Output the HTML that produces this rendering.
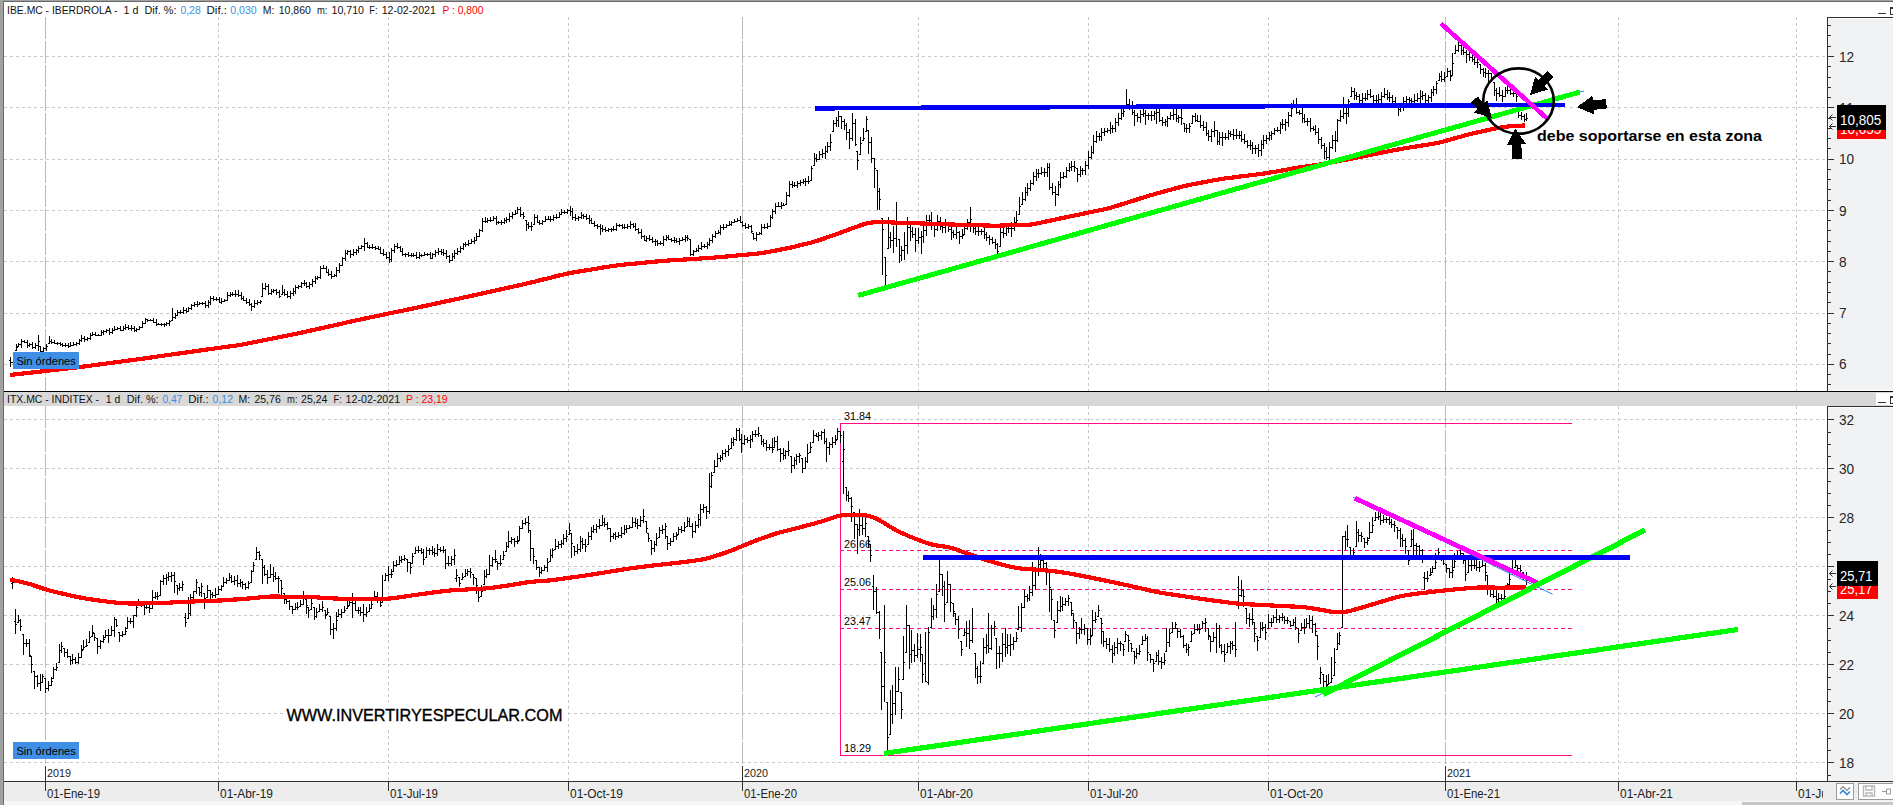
<!DOCTYPE html>
<html><head><meta charset="utf-8"><title>chart</title>
<style>html,body{margin:0;padding:0;background:#fff;overflow:hidden}svg{display:block}text{white-space:pre}</style></head>
<body>
<svg width="1893" height="805" viewBox="0 0 1893 805" font-family="Liberation Sans, sans-serif">
<rect width="1893" height="805" fill="#fff"/>
<path d="M4 364.5H1827M4 313.5H1827M4 261.5H1827M4 210.5H1827M4 159.5H1827M4 107.5H1827M4 56.5H1827M4 762.5H1827M4 713.5H1827M4 664.5H1827M4 615.5H1827M4 566.5H1827M4 517.5H1827M4 468.5H1827M4 419.5H1827M218.5 17V391M218.5 406V781M388.5 17V391M388.5 406V781M568.5 17V391M568.5 406V781M918.5 17V391M918.5 406V781M1088.5 17V391M1088.5 406V781M1268.5 17V391M1268.5 406V781M1618.5 17V391M1618.5 406V781M1796.5 17V391M1796.5 406V781" stroke="#c9c9c9" stroke-width="1" stroke-dasharray="3 3" fill="none" shape-rendering="crispEdges"/>
<path d="M45.5 17V391M45.5 406V781M742.5 17V391M742.5 406V781M1445.5 17V391M1445.5 406V781" stroke="#b9b9b9" stroke-width="1" stroke-dasharray="22 2" fill="none" shape-rendering="crispEdges"/>
<path d="M840.5 755V423.5H1572M840 755.5H1572" stroke="#ff0a84" stroke-width="1" fill="none" shape-rendering="crispEdges"/>
<path d="M840 550.5H1572M840 589.5H1572M840 628.5H1572" stroke="#ff0a84" stroke-width="1" stroke-dasharray="4 3" fill="none" shape-rendering="crispEdges"/>
<path d="M10.5 357V367M9 360.5h1M11 362.5h1M13.5 354V364M12 362.5h1M14 355.5h1M16.5 344V351M15 350.5h1M17 347.5h1M18.5 343V347M17 346.5h1M19 344.5h1M21.5 339V348M20 344.5h1M22 341.5h1M24.5 340V343M23 341.5h1M25 342.5h1M27.5 340V348M26 342.5h1M28 345.5h1M29.5 343V347M28 345.5h1M30 344.5h1M32.5 342V349M31 344.5h1M33 347.5h1M35.5 343V349M34 347.5h1M36 345.5h1M38.5 335V351M37 345.5h1M39 341.5h1M40.5 346V352M39 346.5h1M41 351.5h1M43.5 347V352M42 351.5h1M44 348.5h1M46.5 344V351M45 348.5h1M47 346.5h1M49.5 336V344M48 343.5h1M50 341.5h1M51.5 339V344M50 341.5h1M52 342.5h1M54.5 340V344M53 342.5h1M55 343.5h1M57.5 342V345M56 343.5h1M58 343.5h1M60.5 342V346M59 343.5h1M61 344.5h1M62.5 343V347M61 344.5h1M63 345.5h1M65.5 343V347M64 345.5h1M66 345.5h1M68.5 343V348M67 345.5h1M69 346.5h1M70.5 342V347M69 346.5h1M71 345.5h1M73.5 342V346M72 345.5h1M74 344.5h1M76.5 342V346M75 344.5h1M77 343.5h1M79.5 339V345M78 343.5h1M80 340.5h1M81.5 335V342M80 340.5h1M82 338.5h1M84.5 336V342M83 338.5h1M85 339.5h1M87.5 337V341M86 339.5h1M88 338.5h1M90.5 333V340M89 338.5h1M91 335.5h1M92.5 332V336M91 335.5h1M93 334.5h1M95.5 332V336M94 334.5h1M96 335.5h1M98.5 334V336M97 335.5h1M99 335.5h1M101.5 330V336M100 335.5h1M102 332.5h1M103.5 330V335M102 332.5h1M104 331.5h1M106.5 329V333M105 331.5h1M107 330.5h1M109.5 328V335M108 330.5h1M110 332.5h1M112.5 328V334M111 332.5h1M113 330.5h1M114.5 326V331M113 330.5h1M115 329.5h1M117.5 327V330M116 329.5h1M118 328.5h1M120.5 326V331M119 328.5h1M121 330.5h1M123.5 326V331M122 330.5h1M124 328.5h1M125.5 324V330M124 328.5h1M126 327.5h1M128.5 325V330M127 327.5h1M129 328.5h1M131.5 325V331M130 328.5h1M132 328.5h1M134.5 326V332M133 328.5h1M135 330.5h1M136.5 328V332M135 330.5h1M137 329.5h1M139.5 326V330M138 329.5h1M140 327.5h1M142.5 321V328M141 327.5h1M143 323.5h1M145.5 318V324M144 323.5h1M146 319.5h1M147.5 319V322M146 319.5h1M148 320.5h1M150.5 319V321M149 320.5h1M151 320.5h1M153.5 318V323M152 320.5h1M154 322.5h1M156.5 319V326M155 322.5h1M157 324.5h1M158.5 323V325M157 324.5h1M159 324.5h1M161.5 323V326M160 324.5h1M162 324.5h1M164.5 323V327M163 324.5h1M165 324.5h1M166.5 322V326M165 324.5h1M167 323.5h1M169.5 320V326M168 323.5h1M170 321.5h1M172.5 308V321M171 320.5h1M173 317.5h1M175.5 313V319M174 317.5h1M176 315.5h1M177.5 310V316M176 315.5h1M178 312.5h1M180.5 310V314M179 312.5h1M181 312.5h1M183.5 307V314M182 312.5h1M184 310.5h1M186.5 308V313M185 310.5h1M187 311.5h1M188.5 307V312M187 311.5h1M189 308.5h1M191.5 304V310M190 308.5h1M192 305.5h1M194.5 302V307M193 305.5h1M195 304.5h1M197.5 301V307M196 304.5h1M198 304.5h1M199.5 302V305M198 304.5h1M200 303.5h1M202.5 302V305M201 303.5h1M203 303.5h1M205.5 301V308M204 303.5h1M206 305.5h1M208.5 300V308M207 305.5h1M209 302.5h1M210.5 296V305M209 302.5h1M211 298.5h1M213.5 296V301M212 298.5h1M214 299.5h1M216.5 297V301M215 299.5h1M217 299.5h1M219.5 297V303M218 299.5h1M220 302.5h1M221.5 298V304M220 302.5h1M222 301.5h1M224.5 299V302M223 301.5h1M225 300.5h1M227.5 292V301M226 300.5h1M228 295.5h1M230.5 292V297M229 295.5h1M231 294.5h1M232.5 292V296M231 294.5h1M233 294.5h1M235.5 290V297M234 294.5h1M236 294.5h1M238.5 290V297M237 294.5h1M239 295.5h1M241.5 292V300M240 295.5h1M242 298.5h1M243.5 296V301M242 298.5h1M244 300.5h1M246.5 298V304M245 300.5h1M247 302.5h1M249.5 299V306M248 302.5h1M250 304.5h1M251.5 303V311M250 304.5h1M252 306.5h1M254.5 300V308M253 306.5h1M255 303.5h1M257.5 300V305M256 303.5h1M258 302.5h1M260.5 300V304M259 302.5h1M261 301.5h1M262.5 283V297M261 296.5h1M263 288.5h1M265.5 283V290M264 288.5h1M266 286.5h1M268.5 284V295M267 286.5h1M269 293.5h1M271.5 289V295M270 293.5h1M272 291.5h1M273.5 289V293M272 291.5h1M274 290.5h1M276.5 289V295M275 290.5h1M277 292.5h1M279.5 290V298M278 292.5h1M280 296.5h1M282.5 285V295M281 294.5h1M283 292.5h1M284.5 289V296M283 292.5h1M285 294.5h1M287.5 291V298M286 294.5h1M288 296.5h1M290.5 291V299M289 296.5h1M291 293.5h1M293.5 288V296M292 293.5h1M294 291.5h1M295.5 285V294M294 291.5h1M296 287.5h1M298.5 285V289M297 287.5h1M299 286.5h1M301.5 282V288M300 286.5h1M302 283.5h1M304.5 280V286M303 283.5h1M305 283.5h1M306.5 282V288M305 283.5h1M307 286.5h1M309.5 282V289M308 286.5h1M310 284.5h1M312.5 279V287M311 284.5h1M313 281.5h1M315.5 276V284M314 281.5h1M316 278.5h1M317.5 276V280M316 278.5h1M318 277.5h1M320.5 266V279M319 277.5h1M321 268.5h1M323.5 265V269M322 268.5h1M324 268.5h1M326.5 266V273M325 268.5h1M327 272.5h1M328.5 269V276M327 272.5h1M329 274.5h1M331.5 271V279M330 274.5h1M332 276.5h1M334.5 274V277M333 276.5h1M335 275.5h1M336.5 267V277M335 275.5h1M337 270.5h1M339.5 263V273M338 270.5h1M340 265.5h1M342.5 257V266M341 265.5h1M343 258.5h1M345.5 250V261M344 258.5h1M346 253.5h1M347.5 250V255M346 253.5h1M348 251.5h1M350.5 250V258M349 251.5h1M351 254.5h1M353.5 249V256M352 254.5h1M354 252.5h1M356.5 249V255M355 252.5h1M357 250.5h1M358.5 246V253M357 250.5h1M359 248.5h1M361.5 245V249M360 248.5h1M362 246.5h1M364.5 238V251M363 246.5h1M365 243.5h1M367.5 242V248M366 243.5h1M368 247.5h1M369.5 245V249M368 247.5h1M370 247.5h1M372.5 244V249M371 247.5h1M373 247.5h1M375.5 246V250M374 247.5h1M376 248.5h1M378.5 246V250M377 248.5h1M379 249.5h1M380.5 247V254M379 249.5h1M381 253.5h1M383.5 249V256M382 253.5h1M384 254.5h1M386.5 252V259M385 254.5h1M387 257.5h1M389.5 252V263M388 257.5h1M390 259.5h1M391.5 248V262M390 259.5h1M392 250.5h1M394.5 244V253M393 250.5h1M395 246.5h1M397.5 243V249M396 246.5h1M398 247.5h1M400.5 246V252M399 247.5h1M401 251.5h1M402.5 248V256M401 251.5h1M403 254.5h1M405.5 253V257M404 254.5h1M406 254.5h1M408.5 252V257M407 254.5h1M409 255.5h1M411.5 253V257M410 255.5h1M412 255.5h1M413.5 253V257M412 255.5h1M414 255.5h1M416.5 252V259M415 255.5h1M417 257.5h1M419.5 252V259M418 257.5h1M420 255.5h1M421.5 254V257M420 255.5h1M422 255.5h1M424.5 252V256M423 255.5h1M425 254.5h1M427.5 253V256M426 254.5h1M428 254.5h1M430.5 252V259M429 254.5h1M431 258.5h1M432.5 253V259M431 258.5h1M433 254.5h1M435.5 250V257M434 254.5h1M436 252.5h1M438.5 248V255M437 252.5h1M439 251.5h1M441.5 249V255M440 251.5h1M442 252.5h1M443.5 249V256M442 252.5h1M444 253.5h1M446.5 250V259M445 253.5h1M447 256.5h1M449.5 255V263M448 256.5h1M450 260.5h1M452.5 253V261M451 260.5h1M453 256.5h1M454.5 250V259M453 256.5h1M455 253.5h1M457.5 248V255M456 253.5h1M458 251.5h1M460.5 246V253M459 251.5h1M461 248.5h1M463.5 243V250M462 248.5h1M464 244.5h1M465.5 242V247M464 244.5h1M466 244.5h1M468.5 240V246M467 244.5h1M469 243.5h1M471.5 239V244M470 243.5h1M472 241.5h1M474.5 237V244M473 241.5h1M475 240.5h1M476.5 233V241M475 240.5h1M477 236.5h1M479.5 229V237M478 236.5h1M480 230.5h1M482.5 218V232M481 230.5h1M483 221.5h1M485.5 217V223M484 221.5h1M486 221.5h1M487.5 218V223M486 221.5h1M488 220.5h1M490.5 217V222M489 220.5h1M491 220.5h1M493.5 216V221M492 220.5h1M494 218.5h1M496.5 216V225M495 218.5h1M497 222.5h1M498.5 221V224M497 222.5h1M499 222.5h1M501.5 220V225M500 222.5h1M502 222.5h1M504.5 218V224M503 222.5h1M505 220.5h1M506.5 217V223M505 220.5h1M507 219.5h1M509.5 213V222M508 219.5h1M510 216.5h1M512.5 212V219M511 216.5h1M513 214.5h1M515.5 210V215M514 214.5h1M516 213.5h1M517.5 207V214M516 213.5h1M518 209.5h1M520.5 207V217M519 209.5h1M521 214.5h1M523.5 212V219M522 214.5h1M524 216.5h1M526.5 220V231M525 220.5h1M527 224.5h1M528.5 222V229M527 224.5h1M529 226.5h1M531.5 222V231M530 226.5h1M532 226.5h1M534.5 214V225M533 224.5h1M535 217.5h1M537.5 215V223M536 217.5h1M538 222.5h1M539.5 220V225M538 222.5h1M540 223.5h1M542.5 220V225M541 223.5h1M543 221.5h1M545.5 216V222M544 221.5h1M546 219.5h1M548.5 216V220M547 219.5h1M549 219.5h1M550.5 216V222M549 219.5h1M551 219.5h1M553.5 215V221M552 219.5h1M554 217.5h1M556.5 214V219M555 217.5h1M557 217.5h1M559.5 212V218M558 217.5h1M560 214.5h1M561.5 209V215M560 214.5h1M562 212.5h1M564.5 210V214M563 212.5h1M565 212.5h1M567.5 209V214M566 212.5h1M568 210.5h1M570.5 206V216M569 210.5h1M571 211.5h1M572.5 208V220M571 211.5h1M573 217.5h1M575.5 214V221M574 217.5h1M576 218.5h1M578.5 216V221M577 218.5h1M579 217.5h1M581.5 212V219M580 217.5h1M582 215.5h1M583.5 214V219M582 215.5h1M584 216.5h1M586.5 214V220M585 216.5h1M587 218.5h1M589.5 215V224M588 218.5h1M590 220.5h1M591.5 218V224M590 220.5h1M592 223.5h1M594.5 221V227M593 223.5h1M595 225.5h1M597.5 224V229M596 225.5h1M598 226.5h1M600.5 224V235M599 226.5h1M601 228.5h1M602.5 225V232M601 228.5h1M603 229.5h1M605.5 227V232M604 229.5h1M606 230.5h1M608.5 228V232M607 230.5h1M609 229.5h1M611.5 228V232M610 229.5h1M612 229.5h1M613.5 226V231M612 229.5h1M614 229.5h1M616.5 223V231M615 229.5h1M617 225.5h1M619.5 224V227M618 225.5h1M620 225.5h1M622.5 224V229M621 225.5h1M623 227.5h1M624.5 224V229M623 227.5h1M625 227.5h1M627.5 224V229M626 227.5h1M628 226.5h1M630.5 221V229M629 226.5h1M631 224.5h1M633.5 223V228M632 224.5h1M634 226.5h1M635.5 223V231M634 226.5h1M636 229.5h1M638.5 228V234M637 229.5h1M639 232.5h1M641.5 229V239M640 232.5h1M642 236.5h1M644.5 235V241M643 236.5h1M645 240.5h1M646.5 236V242M645 240.5h1M647 238.5h1M649.5 235V241M648 238.5h1M650 239.5h1M652.5 237V243M651 239.5h1M653 241.5h1M655.5 239V246M654 241.5h1M656 241.5h1M657.5 240V246M656 241.5h1M658 243.5h1M660.5 241V245M659 243.5h1M661 243.5h1M663.5 236V246M662 243.5h1M664 239.5h1M666.5 235V241M665 239.5h1M667 237.5h1M668.5 235V240M667 237.5h1M669 239.5h1M671.5 238V242M670 239.5h1M672 240.5h1M674.5 237V243M673 240.5h1M675 240.5h1M676.5 238V243M675 240.5h1M677 241.5h1M679.5 238V245M678 241.5h1M680 240.5h1M682.5 237V241M681 240.5h1M683 239.5h1M685.5 235V242M684 239.5h1M686 237.5h1M687.5 235V241M686 237.5h1M688 238.5h1M690.5 239V256M689 239.5h1M691 254.5h1M693.5 250V256M692 254.5h1M694 251.5h1M696.5 248V252M695 251.5h1M697 250.5h1M698.5 245V252M697 250.5h1M699 248.5h1M701.5 242V250M700 248.5h1M702 246.5h1M704.5 244V248M703 246.5h1M705 246.5h1M707.5 242V249M706 246.5h1M708 244.5h1M709.5 238V246M708 244.5h1M710 240.5h1M712.5 234V243M711 240.5h1M713 236.5h1M715.5 231V238M714 236.5h1M716 233.5h1M718.5 230V234M717 233.5h1M719 232.5h1M720.5 225V235M719 232.5h1M721 227.5h1M723.5 224V230M722 227.5h1M724 227.5h1M726.5 224V228M725 227.5h1M727 225.5h1M729.5 221V226M728 225.5h1M730 224.5h1M731.5 221V226M730 224.5h1M732 222.5h1M734.5 219V223M733 222.5h1M735 221.5h1M737.5 218V222M736 221.5h1M738 220.5h1M740.5 216V223M739 220.5h1M741 222.5h1M742.5 221V227M741 222.5h1M743 225.5h1M745.5 223V229M744 225.5h1M746 227.5h1M748.5 224V229M747 227.5h1M749 226.5h1M751.5 225V233M750 226.5h1M752 231.5h1M753.5 233V240M752 233.5h1M754 238.5h1M756.5 232V241M755 238.5h1M757 234.5h1M759.5 232V235M758 234.5h1M760 233.5h1M761.5 224V235M760 233.5h1M762 227.5h1M764.5 224V229M763 227.5h1M765 227.5h1M767.5 223V229M766 227.5h1M768 226.5h1M770.5 215V227M769 226.5h1M771 217.5h1M772.5 209V219M771 217.5h1M773 211.5h1M775.5 203V214M774 211.5h1M776 206.5h1M778.5 202V207M777 206.5h1M779 206.5h1M781.5 202V209M780 206.5h1M782 205.5h1M783.5 203V206M782 205.5h1M784 205.5h1M786.5 192V205M785 204.5h1M787 195.5h1M789.5 181V197M788 195.5h1M790 184.5h1M792.5 181V188M791 184.5h1M793 185.5h1M794.5 182V187M793 185.5h1M795 185.5h1M797.5 181V188M796 185.5h1M798 183.5h1M800.5 180V186M799 183.5h1M801 182.5h1M803.5 179V184M802 182.5h1M804 181.5h1M805.5 178V186M804 181.5h1M806 181.5h1M808.5 176V184M807 181.5h1M809 181.5h1M811.5 166V181M810 180.5h1M812 168.5h1M814.5 153V166M813 165.5h1M815 158.5h1M816.5 154V162M815 158.5h1M817 159.5h1M819.5 151V160M818 159.5h1M820 154.5h1M822.5 149V158M821 154.5h1M823 153.5h1M825.5 146V159M824 153.5h1M826 151.5h1M827.5 142V153M826 151.5h1M828 146.5h1M830.5 134V151M829 146.5h1M831 142.5h1M833.5 120V132M832 131.5h1M834 123.5h1M836.5 117V127M835 123.5h1M837 120.5h1M838.5 111V127M837 120.5h1M839 116.5h1M841.5 116V129M840 116.5h1M842 121.5h1M844.5 119V130M843 121.5h1M845 125.5h1M846.5 123V140M845 125.5h1M847 132.5h1M849.5 129V149M848 132.5h1M850 138.5h1M852.5 113V141M851 138.5h1M853 123.5h1M855.5 119V146M854 123.5h1M856 144.5h1M857.5 151V170M856 151.5h1M858 160.5h1M860.5 137V155M859 154.5h1M861 143.5h1M863.5 128V141M862 140.5h1M864 138.5h1M866.5 116V132M865 131.5h1M867 119.5h1M868.5 130V154M867 130.5h1M869 142.5h1M871.5 137V163M870 142.5h1M872 158.5h1M874.5 158V188M873 158.5h1M875 168.5h1M877.5 170V210M876 170.5h1M878 191.5h1M879.5 188V210M878 191.5h1M880 199.5h1M882.5 218V275M881 218.5h1M883 229.5h1M885.5 257V286M884 257.5h1M886 275.5h1M888.5 217V249M887 248.5h1M889 237.5h1M890.5 232V248M889 237.5h1M891 240.5h1M893.5 226V253M892 240.5h1M894 238.5h1M896.5 202V247M895 238.5h1M897 221.5h1M899.5 239V263M898 239.5h1M900 255.5h1M901.5 246V261M900 255.5h1M902 250.5h1M904.5 232V260M903 250.5h1M905 245.5h1M907.5 217V254M906 245.5h1M908 227.5h1M910.5 222V241M909 227.5h1M911 231.5h1M912.5 227V238M911 231.5h1M913 234.5h1M915.5 228V252M914 234.5h1M916 240.5h1M918.5 228V244M917 240.5h1M919 237.5h1M921.5 231V254M920 237.5h1M922 236.5h1M923.5 225V243M922 236.5h1M924 230.5h1M926.5 215V236M925 230.5h1M927 220.5h1M929.5 215V226M928 220.5h1M930 220.5h1M931.5 212V230M930 220.5h1M932 224.5h1M934.5 224V237M933 224.5h1M935 229.5h1M937.5 215V231M936 229.5h1M938 221.5h1M940.5 217V230M939 221.5h1M941 226.5h1M942.5 223V233M941 226.5h1M943 227.5h1M945.5 219V233M944 227.5h1M946 225.5h1M948.5 222V232M947 225.5h1M949 229.5h1M951.5 227V240M950 229.5h1M952 232.5h1M953.5 230V238M952 232.5h1M954 234.5h1M956.5 227V239M955 234.5h1M957 232.5h1M959.5 231V244M958 232.5h1M960 236.5h1M962.5 229V239M961 236.5h1M963 235.5h1M964.5 224V235M963 234.5h1M965 228.5h1M967.5 219V230M966 228.5h1M968 222.5h1M970.5 207V232M969 222.5h1M971 219.5h1M973.5 223V233M972 223.5h1M974 228.5h1M975.5 225V235M974 228.5h1M976 231.5h1M978.5 226V236M977 231.5h1M979 231.5h1M981.5 229V235M980 231.5h1M982 231.5h1M984.5 228V239M983 231.5h1M985 234.5h1M986.5 232V241M985 234.5h1M987 237.5h1M989.5 235V245M988 237.5h1M990 239.5h1M992.5 237V244M991 239.5h1M993 242.5h1M995.5 239V249M994 242.5h1M996 244.5h1M997.5 243V254M996 244.5h1M998 251.5h1M1000.5 223V247M999 246.5h1M1001 232.5h1M1003.5 228V238M1002 232.5h1M1004 233.5h1M1006.5 223V236M1005 233.5h1M1007 228.5h1M1008.5 223V233M1007 228.5h1M1009 228.5h1M1011.5 222V237M1010 228.5h1M1012 228.5h1M1014.5 217V231M1013 228.5h1M1015 222.5h1M1016.5 211V226M1015 222.5h1M1017 220.5h1M1019.5 197V215M1018 214.5h1M1020 206.5h1M1022.5 192V205M1021 204.5h1M1023 199.5h1M1025.5 187V201M1024 199.5h1M1026 192.5h1M1027.5 183V196M1026 192.5h1M1028 188.5h1M1030.5 180V191M1029 188.5h1M1031 183.5h1M1033.5 172V185M1032 183.5h1M1034 176.5h1M1036.5 169V181M1035 176.5h1M1037 173.5h1M1038.5 169V178M1037 173.5h1M1039 173.5h1M1041.5 167V175M1040 173.5h1M1042 172.5h1M1044.5 168V177M1043 172.5h1M1045 172.5h1M1047.5 163V177M1046 172.5h1M1048 167.5h1M1049.5 163V190M1048 167.5h1M1050 187.5h1M1052.5 183V195M1051 187.5h1M1053 192.5h1M1055.5 186V206M1054 192.5h1M1056 194.5h1M1058.5 181V196M1057 194.5h1M1059 184.5h1M1060.5 172V188M1059 184.5h1M1061 177.5h1M1063.5 172V179M1062 177.5h1M1064 176.5h1M1066.5 167V178M1065 176.5h1M1067 170.5h1M1069.5 163V172M1068 170.5h1M1070 167.5h1M1071.5 161V171M1070 167.5h1M1072 166.5h1M1074.5 161V172M1073 166.5h1M1075 167.5h1M1077.5 168V182M1076 168.5h1M1078 174.5h1M1080.5 166V177M1079 174.5h1M1081 170.5h1M1082.5 168V175M1081 170.5h1M1083 170.5h1M1085.5 161V175M1084 170.5h1M1086 165.5h1M1088.5 151V169M1087 165.5h1M1089 157.5h1M1091.5 146V159M1090 157.5h1M1092 152.5h1M1093.5 135V154M1092 152.5h1M1094 141.5h1M1096.5 131V143M1095 141.5h1M1097 136.5h1M1099.5 133V141M1098 136.5h1M1100 136.5h1M1101.5 128V141M1100 136.5h1M1102 132.5h1M1104.5 128V136M1103 132.5h1M1105 131.5h1M1107.5 128V133M1106 131.5h1M1108 130.5h1M1110.5 122V134M1109 130.5h1M1111 128.5h1M1112.5 125V133M1111 128.5h1M1113 128.5h1M1115.5 118V132M1114 128.5h1M1116 122.5h1M1118.5 113V126M1117 122.5h1M1119 118.5h1M1121.5 108V120M1120 118.5h1M1122 113.5h1M1123.5 106V117M1122 113.5h1M1124 111.5h1M1126.5 89V106M1125 105.5h1M1127 104.5h1M1129.5 99V110M1128 104.5h1M1130 106.5h1M1132.5 101V115M1131 106.5h1M1133 112.5h1M1134.5 110V126M1133 112.5h1M1135 115.5h1M1137.5 113V122M1136 115.5h1M1138 117.5h1M1140.5 110V123M1139 117.5h1M1141 114.5h1M1143.5 109V117M1142 114.5h1M1144 113.5h1M1145.5 110V125M1144 113.5h1M1146 115.5h1M1148.5 113V120M1147 115.5h1M1149 115.5h1M1151.5 111V121M1150 115.5h1M1152 115.5h1M1154.5 111V120M1153 115.5h1M1155 113.5h1M1156.5 109V124M1155 113.5h1M1157 112.5h1M1159.5 109V122M1158 112.5h1M1160 120.5h1M1162.5 117V126M1161 120.5h1M1163 122.5h1M1165.5 119V126M1164 122.5h1M1166 121.5h1M1167.5 116V127M1166 121.5h1M1168 118.5h1M1170.5 112V120M1169 118.5h1M1171 115.5h1M1173.5 109V120M1172 115.5h1M1174 114.5h1M1176.5 109V122M1175 114.5h1M1177 118.5h1M1178.5 115V123M1177 118.5h1M1179 117.5h1M1181.5 109V125M1180 117.5h1M1182 118.5h1M1184.5 123V132M1183 123.5h1M1185 128.5h1M1186.5 124V133M1185 128.5h1M1187 128.5h1M1189.5 123V133M1188 128.5h1M1190 126.5h1M1192.5 115V124M1191 123.5h1M1193 116.5h1M1195.5 113V122M1194 116.5h1M1196 120.5h1M1197.5 115V122M1196 120.5h1M1198 121.5h1M1200.5 115V128M1199 121.5h1M1201 125.5h1M1203.5 121V131M1202 125.5h1M1204 127.5h1M1206.5 122V136M1205 127.5h1M1207 133.5h1M1208.5 130V141M1207 133.5h1M1209 136.5h1M1211.5 129V142M1210 136.5h1M1212 131.5h1M1214.5 121V137M1213 131.5h1M1215 130.5h1M1217.5 130V145M1216 130.5h1M1218 141.5h1M1219.5 132V145M1218 141.5h1M1220 137.5h1M1222.5 132V146M1221 137.5h1M1223 137.5h1M1225.5 133V140M1224 137.5h1M1226 137.5h1M1228.5 130V140M1227 137.5h1M1229 133.5h1M1230.5 131V137M1229 133.5h1M1231 134.5h1M1233.5 129V140M1232 134.5h1M1234 135.5h1M1236.5 129V139M1235 135.5h1M1237 135.5h1M1239.5 131V139M1238 135.5h1M1240 135.5h1M1241.5 131V142M1240 135.5h1M1242 139.5h1M1244.5 134V144M1243 139.5h1M1245 141.5h1M1247.5 140V148M1246 141.5h1M1248 145.5h1M1250.5 140V150M1249 145.5h1M1251 145.5h1M1252.5 142V154M1251 145.5h1M1253 148.5h1M1255.5 145V154M1254 148.5h1M1256 148.5h1M1258.5 144V157M1257 148.5h1M1259 150.5h1M1261.5 140V156M1260 150.5h1M1262 144.5h1M1263.5 135V149M1262 144.5h1M1264 140.5h1M1266.5 135V144M1265 140.5h1M1267 138.5h1M1269.5 132V141M1268 138.5h1M1270 135.5h1M1271.5 131V140M1270 135.5h1M1272 133.5h1M1274.5 128V135M1273 133.5h1M1275 130.5h1M1277.5 127V132M1276 130.5h1M1278 130.5h1M1280.5 122V134M1279 130.5h1M1281 124.5h1M1282.5 119V129M1281 124.5h1M1283 124.5h1M1285.5 119V131M1284 124.5h1M1286 122.5h1M1288.5 112V127M1287 122.5h1M1289 115.5h1M1291.5 103V117M1290 115.5h1M1292 108.5h1M1293.5 100V107M1292 106.5h1M1294 104.5h1M1296.5 98V114M1295 104.5h1M1297 112.5h1M1299.5 110V115M1298 112.5h1M1300 113.5h1M1302.5 108V123M1301 113.5h1M1303 118.5h1M1304.5 114V123M1303 118.5h1M1305 121.5h1M1307.5 118V126M1306 121.5h1M1308 121.5h1M1310.5 118V132M1309 121.5h1M1311 128.5h1M1313.5 126V131M1312 128.5h1M1314 129.5h1M1315.5 125V135M1314 129.5h1M1316 132.5h1M1318.5 128V144M1317 132.5h1M1319 139.5h1M1321.5 137V149M1320 139.5h1M1322 145.5h1M1324.5 143V159M1323 145.5h1M1325 151.5h1M1326.5 147V160M1325 151.5h1M1327 157.5h1M1329.5 142V160M1328 157.5h1M1330 147.5h1M1332.5 135V149M1331 147.5h1M1333 140.5h1M1335.5 131V152M1334 140.5h1M1336 140.5h1M1337.5 119V142M1336 140.5h1M1338 120.5h1M1340.5 110V122M1339 120.5h1M1341 116.5h1M1343.5 97V119M1342 116.5h1M1344 113.5h1M1346.5 107V124M1345 113.5h1M1347 113.5h1M1348.5 99V117M1347 113.5h1M1349 101.5h1M1351.5 87V97M1350 96.5h1M1352 91.5h1M1354.5 88V100M1353 91.5h1M1355 95.5h1M1356.5 92V100M1355 95.5h1M1357 96.5h1M1359.5 94V104M1358 96.5h1M1360 100.5h1M1362.5 93V105M1361 100.5h1M1363 98.5h1M1365.5 93V101M1364 98.5h1M1366 98.5h1M1367.5 90V100M1366 98.5h1M1368 94.5h1M1370.5 89V98M1369 94.5h1M1371 96.5h1M1373.5 95V103M1372 96.5h1M1374 100.5h1M1376.5 95V104M1375 100.5h1M1377 100.5h1M1378.5 94V103M1377 100.5h1M1379 99.5h1M1381.5 92V104M1380 99.5h1M1382 96.5h1M1384.5 88V98M1383 96.5h1M1385 94.5h1M1387.5 90V100M1386 94.5h1M1388 97.5h1M1389.5 92V102M1388 97.5h1M1390 97.5h1M1392.5 95V105M1391 97.5h1M1393 101.5h1M1395.5 97V107M1394 101.5h1M1396 105.5h1M1398.5 103V116M1397 105.5h1M1399 109.5h1M1400.5 103V112M1399 109.5h1M1401 106.5h1M1403.5 97V111M1402 106.5h1M1404 101.5h1M1406.5 96V104M1405 101.5h1M1407 99.5h1M1409.5 97V103M1408 99.5h1M1410 100.5h1M1411.5 98V104M1410 100.5h1M1412 101.5h1M1414.5 94V106M1413 101.5h1M1415 100.5h1M1417.5 93V102M1416 100.5h1M1418 98.5h1M1420.5 90V103M1419 98.5h1M1421 96.5h1M1422.5 91V100M1421 96.5h1M1423 95.5h1M1425.5 93V104M1424 95.5h1M1426 100.5h1M1428.5 95V103M1427 100.5h1M1429 97.5h1M1431.5 89V102M1430 97.5h1M1432 92.5h1M1433.5 86V96M1432 92.5h1M1434 89.5h1M1436.5 81V94M1435 89.5h1M1437 83.5h1M1439.5 73V81M1438 80.5h1M1440 76.5h1M1441.5 71V82M1440 76.5h1M1442 79.5h1M1444.5 72V82M1443 79.5h1M1445 77.5h1M1447.5 68V77M1446 76.5h1M1448 71.5h1M1450.5 70V81M1449 71.5h1M1451 76.5h1M1452.5 53V76M1451 75.5h1M1453 63.5h1M1455.5 45V54M1454 53.5h1M1456 50.5h1M1458.5 39V52M1457 50.5h1M1459 45.5h1M1461.5 44V55M1460 45.5h1M1462 50.5h1M1463.5 46V55M1462 50.5h1M1464 52.5h1M1466.5 50V63M1465 52.5h1M1467 54.5h1M1469.5 52V61M1468 54.5h1M1470 57.5h1M1472.5 53V62M1471 57.5h1M1473 59.5h1M1474.5 55V65M1473 59.5h1M1475 62.5h1M1477.5 59V68M1476 62.5h1M1478 62.5h1M1480.5 64V74M1479 64.5h1M1481 69.5h1M1483.5 68V77M1482 69.5h1M1484 72.5h1M1485.5 68V78M1484 72.5h1M1486 73.5h1M1488.5 70V82M1487 73.5h1M1489 73.5h1M1491.5 73V82M1490 73.5h1M1492 78.5h1M1494.5 82V96M1493 82.5h1M1495 90.5h1M1496.5 88V101M1495 90.5h1M1497 93.5h1M1499.5 87V97M1498 93.5h1M1500 95.5h1M1502.5 90V102M1501 95.5h1M1503 96.5h1M1505.5 87V97M1504 96.5h1M1506 90.5h1M1507.5 85V94M1506 90.5h1M1508 90.5h1M1510.5 86V95M1509 90.5h1M1511 93.5h1M1513.5 88V97M1512 93.5h1M1514 93.5h1M1516.5 90V102M1515 93.5h1M1517 96.5h1M1518.5 110V118M1517 110.5h1M1519 115.5h1M1521.5 112V120M1520 115.5h1M1522 116.5h1M1524.5 114V122M1523 116.5h1M1525 119.5h1M1526.5 113V121M1525 119.5h1M1527 118.5h1" stroke="#000" stroke-width="1" fill="none" shape-rendering="crispEdges"/>
<path d="M12.5 577V589M11 583.5h1M13 582.5h1M15.5 609V634M14 621.5h1M16 624.5h1M18.5 615V623M17 622.5h1M19 620.5h1M20.5 619V631M19 620.5h1M21 626.5h1M23.5 634V655M22 634.5h1M24 643.5h1M26.5 639V647M25 643.5h1M27 643.5h1M29.5 639V657M28 643.5h1M30 655.5h1M31.5 656V673M30 656.5h1M32 664.5h1M34.5 671V689M33 671.5h1M35 676.5h1M37.5 675V687M36 676.5h1M38 683.5h1M40.5 674V691M39 683.5h1M41 682.5h1M42.5 674V683M41 682.5h1M43 676.5h1M45.5 678V693M44 678.5h1M46 688.5h1M48.5 681V691M47 688.5h1M49 685.5h1M51.5 677V686M50 685.5h1M52 681.5h1M53.5 667V679M52 678.5h1M54 669.5h1M56.5 663V671M55 669.5h1M57 667.5h1M59.5 644V663M58 662.5h1M60 650.5h1M61.5 642V653M60 650.5h1M62 646.5h1M64.5 648V657M63 648.5h1M65 652.5h1M67.5 649V658M66 652.5h1M68 656.5h1M70.5 656V665M69 656.5h1M71 660.5h1M72.5 654V664M71 660.5h1M73 659.5h1M75.5 657V664M74 659.5h1M76 662.5h1M78.5 653V664M77 662.5h1M79 657.5h1M81.5 645V658M80 657.5h1M82 650.5h1M83.5 640V650M82 649.5h1M84 647.5h1M86.5 639V647M85 646.5h1M87 645.5h1M89.5 631V643M88 642.5h1M90 637.5h1M92.5 625V637M91 636.5h1M93 632.5h1M94.5 633V641M93 633.5h1M95 637.5h1M97.5 638V654M96 638.5h1M98 646.5h1M100.5 640V649M99 646.5h1M101 641.5h1M103.5 635V643M102 641.5h1M104 639.5h1M105.5 630V638M104 637.5h1M106 635.5h1M108.5 629V643M107 635.5h1M109 635.5h1M111.5 626V636M110 635.5h1M112 630.5h1M114.5 617V637M113 630.5h1M115 619.5h1M116.5 619V627M115 619.5h1M117 625.5h1M119.5 632V642M118 632.5h1M120 635.5h1M122.5 631V637M121 635.5h1M123 634.5h1M125.5 627V635M124 634.5h1M126 631.5h1M127.5 617V629M126 628.5h1M128 621.5h1M130.5 618V624M129 621.5h1M131 621.5h1M133.5 615V628M132 621.5h1M134 615.5h1M136.5 604V617M135 615.5h1M137 607.5h1M138.5 599V606M137 605.5h1M139 603.5h1M141.5 601V607M140 603.5h1M142 605.5h1M144.5 605V615M143 605.5h1M145 607.5h1M146.5 603V609M145 607.5h1M147 607.5h1M149.5 604V613M148 607.5h1M150 608.5h1M152.5 590V609M151 608.5h1M153 597.5h1M155.5 592V599M154 597.5h1M156 596.5h1M157.5 592V600M156 596.5h1M158 596.5h1M160.5 580V596M159 595.5h1M161 581.5h1M163.5 575V585M162 581.5h1M164 578.5h1M166.5 574V585M165 578.5h1M167 577.5h1M168.5 572V581M167 577.5h1M169 576.5h1M171.5 572V582M170 576.5h1M172 575.5h1M174.5 572V593M173 575.5h1M175 581.5h1M177.5 585V595M176 585.5h1M178 588.5h1M179.5 583V591M178 588.5h1M180 587.5h1M182.5 581V591M181 587.5h1M183 584.5h1M185.5 613V627M184 617.5h1M186 622.5h1M188.5 597V619M187 618.5h1M189 613.5h1M190.5 594V616M189 613.5h1M191 597.5h1M193.5 591V600M192 597.5h1M194 591.5h1M196.5 579V594M195 591.5h1M197 582.5h1M199.5 587V596M198 587.5h1M200 592.5h1M201.5 583V597M200 592.5h1M202 586.5h1M204.5 593V609M203 593.5h1M205 598.5h1M207.5 585V598M206 597.5h1M208 590.5h1M210.5 590V599M209 590.5h1M211 594.5h1M212.5 592V598M211 594.5h1M213 595.5h1M215.5 588V598M214 595.5h1M216 594.5h1M218.5 586V595M217 594.5h1M219 589.5h1M221.5 585V591M220 589.5h1M222 586.5h1M223.5 577V587M222 586.5h1M224 582.5h1M226.5 578V584M225 582.5h1M227 580.5h1M229.5 573V581M228 580.5h1M230 577.5h1M231.5 575V583M230 577.5h1M232 581.5h1M234.5 576V585M233 581.5h1M235 580.5h1M237.5 575V587M236 580.5h1M238 583.5h1M240.5 579V587M239 583.5h1M241 582.5h1M242.5 581V589M241 582.5h1M243 584.5h1M245.5 583V590M244 584.5h1M246 587.5h1M248.5 581V589M247 587.5h1M249 583.5h1M251.5 570V583M250 582.5h1M252 571.5h1M253.5 562V572M252 571.5h1M254 565.5h1M256.5 547V560M255 559.5h1M257 552.5h1M259.5 551V560M258 552.5h1M260 555.5h1M262.5 559V584M261 559.5h1M263 567.5h1M264.5 565V576M263 567.5h1M265 574.5h1M267.5 570V584M266 574.5h1M268 577.5h1M270.5 564V578M269 577.5h1M271 574.5h1M273.5 567V582M272 574.5h1M274 576.5h1M275.5 572V580M274 576.5h1M276 578.5h1M278.5 576V593M277 578.5h1M279 578.5h1M281.5 580V597M280 580.5h1M282 588.5h1M284.5 593V604M283 593.5h1M285 599.5h1M286.5 597V604M285 599.5h1M287 601.5h1M289.5 600V610M288 601.5h1M290 606.5h1M292.5 606V614M291 606.5h1M293 609.5h1M295.5 603V610M294 609.5h1M296 607.5h1M297.5 602V610M296 607.5h1M298 607.5h1M300.5 600V607M299 606.5h1M301 604.5h1M303.5 591V605M302 604.5h1M304 598.5h1M306.5 599V614M305 599.5h1M307 605.5h1M308.5 607V618M307 607.5h1M309 610.5h1M311.5 599V610M310 609.5h1M312 603.5h1M314.5 607V620M313 607.5h1M315 616.5h1M316.5 608V618M315 616.5h1M317 612.5h1M319.5 604V612M318 611.5h1M320 609.5h1M322.5 601V612M321 609.5h1M323 607.5h1M325.5 610V619M324 610.5h1M326 615.5h1M327.5 608V615M326 614.5h1M328 612.5h1M330.5 616V635M329 616.5h1M331 629.5h1M333.5 623V639M332 629.5h1M334 628.5h1M336.5 612V631M335 628.5h1M337 620.5h1M338.5 609V617M337 616.5h1M339 614.5h1M341.5 609V618M340 614.5h1M342 612.5h1M344.5 606V613M343 612.5h1M345 610.5h1M347.5 601V609M346 608.5h1M348 606.5h1M349.5 599V606M348 605.5h1M350 602.5h1M352.5 593V618M351 602.5h1M353 603.5h1M355.5 601V611M354 603.5h1M356 610.5h1M358.5 607V614M357 610.5h1M359 610.5h1M360.5 607V616M359 610.5h1M361 612.5h1M363.5 604V622M362 612.5h1M364 614.5h1M366.5 607V617M365 614.5h1M367 612.5h1M369.5 604V612M368 611.5h1M370 608.5h1M371.5 597V609M370 608.5h1M372 604.5h1M374.5 591V599M373 598.5h1M375 596.5h1M377.5 592V603M376 596.5h1M378 599.5h1M380.5 598V607M379 599.5h1M381 605.5h1M382.5 575V603M381 602.5h1M383 598.5h1M385.5 573V581M384 580.5h1M386 575.5h1M388.5 566V581M387 575.5h1M389 574.5h1M391.5 569V578M390 574.5h1M392 574.5h1M393.5 561V572M392 571.5h1M394 565.5h1M396.5 560V567M395 565.5h1M397 564.5h1M399.5 556V565M398 564.5h1M400 560.5h1M401.5 556V563M400 560.5h1M402 559.5h1M404.5 555V561M403 559.5h1M405 558.5h1M407.5 559V572M406 559.5h1M408 562.5h1M410.5 562V574M409 562.5h1M411 567.5h1M412.5 553V564M411 563.5h1M413 556.5h1M415.5 547V554M414 553.5h1M416 550.5h1M418.5 546V553M417 550.5h1M419 550.5h1M421.5 548V554M420 550.5h1M422 552.5h1M423.5 549V565M422 552.5h1M424 559.5h1M426.5 547V558M425 557.5h1M427 550.5h1M429.5 548V555M428 550.5h1M430 550.5h1M432.5 546V555M431 550.5h1M433 552.5h1M434.5 548V557M433 552.5h1M435 553.5h1M437.5 544V556M436 553.5h1M438 549.5h1M440.5 547V552M439 549.5h1M441 550.5h1M443.5 546V553M442 550.5h1M444 550.5h1M445.5 549V569M444 550.5h1M446 563.5h1M448.5 556V566M447 563.5h1M449 563.5h1M451.5 556V566M450 563.5h1M452 559.5h1M454.5 549V565M453 559.5h1M455 555.5h1M456.5 569V582M455 578.5h1M457 575.5h1M459.5 577V587M458 577.5h1M460 583.5h1M462.5 573V580M461 579.5h1M463 577.5h1M465.5 569V577M464 576.5h1M466 573.5h1M467.5 569V576M466 573.5h1M468 571.5h1M470.5 568V578M469 571.5h1M471 572.5h1M473.5 574V585M472 574.5h1M474 577.5h1M476.5 578V594M475 578.5h1M477 585.5h1M478.5 590V602M477 590.5h1M479 597.5h1M481.5 585V597M480 596.5h1M482 591.5h1M484.5 570V585M483 584.5h1M485 576.5h1M486.5 569V578M485 576.5h1M487 574.5h1M489.5 555V575M488 574.5h1M490 565.5h1M492.5 557V567M491 565.5h1M493 559.5h1M495.5 550V563M494 559.5h1M496 559.5h1M497.5 561V570M496 561.5h1M498 563.5h1M500.5 555V566M499 563.5h1M501 563.5h1M503.5 551V560M502 559.5h1M504 555.5h1M506.5 542V552M505 551.5h1M507 546.5h1M508.5 531V548M507 546.5h1M509 541.5h1M511.5 537V544M510 541.5h1M512 539.5h1M514.5 538V547M513 539.5h1M515 541.5h1M517.5 536V544M516 541.5h1M518 541.5h1M519.5 526V541M518 540.5h1M520 528.5h1M522.5 520V529M521 528.5h1M523 523.5h1M525.5 518V525M524 523.5h1M526 522.5h1M528.5 516V533M527 522.5h1M529 523.5h1M530.5 530V561M529 530.5h1M531 548.5h1M533.5 548V564M532 548.5h1M534 556.5h1M536.5 560V570M535 560.5h1M537 567.5h1M539.5 567V577M538 567.5h1M540 572.5h1M541.5 567V574M540 572.5h1M542 570.5h1M544.5 565V571M543 570.5h1M545 567.5h1M547.5 558V572M546 567.5h1M548 562.5h1M550.5 549V562M549 561.5h1M551 555.5h1M552.5 548V558M551 555.5h1M553 550.5h1M555.5 539V550M554 549.5h1M556 546.5h1M558.5 541V549M557 546.5h1M559 544.5h1M561.5 540V548M560 544.5h1M562 543.5h1M563.5 534V545M562 543.5h1M564 538.5h1M566.5 530V542M565 538.5h1M567 536.5h1M569.5 523V535M568 534.5h1M570 530.5h1M571.5 533V558M570 533.5h1M572 543.5h1M574.5 546V556M573 546.5h1M575 551.5h1M577.5 544V554M576 551.5h1M578 549.5h1M580.5 536V552M579 549.5h1M581 541.5h1M582.5 538V549M581 541.5h1M583 544.5h1M585.5 539V552M584 544.5h1M586 546.5h1M588.5 532V545M587 544.5h1M589 536.5h1M591.5 527V540M590 536.5h1M592 531.5h1M593.5 525V533M592 531.5h1M594 529.5h1M596.5 524V533M595 529.5h1M597 526.5h1M599.5 519V529M598 526.5h1M600 525.5h1M602.5 515V526M601 525.5h1M603 522.5h1M604.5 518V527M603 522.5h1M605 524.5h1M607.5 522V530M606 524.5h1M608 528.5h1M610.5 528V542M609 528.5h1M611 536.5h1M613.5 533V539M612 536.5h1M614 534.5h1M615.5 532V540M614 534.5h1M616 536.5h1M618.5 532V538M617 536.5h1M619 535.5h1M621.5 527V538M620 535.5h1M622 533.5h1M624.5 525V535M623 533.5h1M625 529.5h1M626.5 525V533M625 529.5h1M627 528.5h1M629.5 525V529M628 528.5h1M630 527.5h1M632.5 517V528M631 527.5h1M633 522.5h1M635.5 518V527M634 522.5h1M636 523.5h1M637.5 519V529M636 523.5h1M638 525.5h1M640.5 516V527M639 525.5h1M641 520.5h1M643.5 509V523M642 520.5h1M644 516.5h1M646.5 521V533M645 521.5h1M647 528.5h1M648.5 533V542M647 533.5h1M649 538.5h1M651.5 540V555M650 540.5h1M652 548.5h1M654.5 541V552M653 548.5h1M655 544.5h1M656.5 533V546M655 544.5h1M657 538.5h1M659.5 527V538M658 537.5h1M660 530.5h1M662.5 525V534M661 530.5h1M663 529.5h1M665.5 523V539M664 529.5h1M666 526.5h1M667.5 536V550M666 536.5h1M668 543.5h1M670.5 538V546M669 543.5h1M671 541.5h1M673.5 533V542M672 541.5h1M674 536.5h1M676.5 532V540M675 536.5h1M677 535.5h1M678.5 527V535M677 534.5h1M679 529.5h1M681.5 526V533M680 529.5h1M682 530.5h1M684.5 522V532M683 530.5h1M685 527.5h1M687.5 517V527M686 526.5h1M688 521.5h1M689.5 518V527M688 521.5h1M690 526.5h1M692.5 523V538M691 526.5h1M693 531.5h1M695.5 521V533M694 531.5h1M696 525.5h1M698.5 514V528M697 525.5h1M699 519.5h1M700.5 504V526M699 519.5h1M701 509.5h1M703.5 504V513M702 509.5h1M704 507.5h1M706.5 506V519M705 507.5h1M707 511.5h1M709.5 473V514M708 511.5h1M710 486.5h1M711.5 472V488M710 486.5h1M712 475.5h1M714.5 460V473M713 472.5h1M715 466.5h1M717.5 453V467M716 466.5h1M718 458.5h1M720.5 455V462M719 458.5h1M721 457.5h1M722.5 450V460M721 457.5h1M723 453.5h1M725.5 449V457M724 453.5h1M726 451.5h1M728.5 445V456M727 451.5h1M729 449.5h1M731.5 438V449M730 448.5h1M732 442.5h1M733.5 437V446M732 442.5h1M734 439.5h1M736.5 428V441M735 439.5h1M737 430.5h1M739.5 428V441M738 430.5h1M740 439.5h1M741.5 434V453M740 439.5h1M742 443.5h1M744.5 435V445M743 443.5h1M745 439.5h1M747.5 437V443M746 439.5h1M748 440.5h1M750.5 435V448M749 440.5h1M751 439.5h1M752.5 431V442M751 439.5h1M753 434.5h1M755.5 430V437M754 434.5h1M756 434.5h1M758.5 427V437M757 434.5h1M759 433.5h1M761.5 435V445M760 435.5h1M762 441.5h1M763.5 439V447M762 441.5h1M764 443.5h1M766.5 440V451M765 443.5h1M767 447.5h1M769.5 444V450M768 447.5h1M770 447.5h1M772.5 438V453M771 447.5h1M773 449.5h1M774.5 437V448M773 447.5h1M775 441.5h1M777.5 436V451M776 441.5h1M778 449.5h1M780.5 448V462M779 449.5h1M781 453.5h1M783.5 448V460M782 453.5h1M784 455.5h1M785.5 450V459M784 455.5h1M786 451.5h1M788.5 441V456M787 451.5h1M789 450.5h1M791.5 456V473M790 456.5h1M792 465.5h1M794.5 457V469M793 465.5h1M795 460.5h1M796.5 454V465M795 460.5h1M797 456.5h1M799.5 453V463M798 456.5h1M800 455.5h1M802.5 458V473M801 458.5h1M803 468.5h1M805.5 457V469M804 468.5h1M806 461.5h1M807.5 444V463M806 461.5h1M808 453.5h1M810.5 442V453M809 452.5h1M811 447.5h1M813.5 430V443M812 442.5h1M814 435.5h1M816.5 433V437M815 435.5h1M817 436.5h1M818.5 432V441M817 436.5h1M819 435.5h1M821.5 431V440M820 435.5h1M822 432.5h1M824.5 429V444M823 432.5h1M825 441.5h1M826.5 438V462M825 441.5h1M827 447.5h1M829.5 442V455M828 447.5h1M830 444.5h1M832.5 437V448M831 444.5h1M833 442.5h1M835.5 435V445M834 442.5h1M836 440.5h1M837.5 428V440M836 439.5h1M838 431.5h1M840.5 431V443M839 431.5h1M841 435.5h1M843.5 431V494M842 461.5h1M844 449.5h1M846.5 487V501M845 487.5h1M847 495.5h1M848.5 491V502M847 495.5h1M849 498.5h1M851.5 497V522M850 498.5h1M852 506.5h1M854.5 512V539M853 512.5h1M855 524.5h1M857.5 524V554M856 524.5h1M858 529.5h1M859.5 509V536M858 529.5h1M860 525.5h1M862.5 516V535M861 525.5h1M863 528.5h1M865.5 516V537M864 528.5h1M866 523.5h1M868.5 536V547M867 536.5h1M869 541.5h1M870.5 544V562M869 544.5h1M871 555.5h1M873.5 575V610M872 586.5h1M874 591.5h1M876.5 587V614M875 591.5h1M877 612.5h1M879.5 611V639M878 612.5h1M880 629.5h1M881.5 652V710M880 652.5h1M882 686.5h1M884.5 605V702M883 686.5h1M885 662.5h1M887.5 702V756M886 702.5h1M888 737.5h1M890.5 690V735M889 734.5h1M891 714.5h1M892.5 685V724M891 714.5h1M893 703.5h1M895.5 667V715M894 703.5h1M896 691.5h1M898.5 667V692M897 691.5h1M899 679.5h1M901.5 692V719M900 692.5h1M902 709.5h1M903.5 636V680M902 679.5h1M904 662.5h1M906.5 605V653M905 652.5h1M907 625.5h1M909.5 625V669M908 625.5h1M910 654.5h1M911.5 630V663M910 654.5h1M912 650.5h1M914.5 644V662M913 650.5h1M915 655.5h1M917.5 633V658M916 655.5h1M918 649.5h1M920.5 634V662M919 649.5h1M921 647.5h1M922.5 654V683M921 654.5h1M923 674.5h1M925.5 632V682M924 663.5h1M926 681.5h1M928.5 627V685M927 682.5h1M929 632.5h1M931.5 598V628M930 627.5h1M932 616.5h1M933.5 605V620M932 616.5h1M934 609.5h1M936.5 584V618M935 609.5h1M937 594.5h1M939.5 559V592M938 591.5h1M940 574.5h1M942.5 574V596M941 574.5h1M943 586.5h1M944.5 581V622M943 586.5h1M945 604.5h1M947.5 571V603M946 602.5h1M948 584.5h1M950.5 584V612M949 584.5h1M951 602.5h1M953.5 603V617M952 603.5h1M954 611.5h1M955.5 613V625M954 613.5h1M956 619.5h1M958.5 616V639M957 619.5h1M959 629.5h1M961.5 641V656M960 641.5h1M962 649.5h1M964.5 628V636M963 635.5h1M965 632.5h1M966.5 621V647M965 632.5h1M967 633.5h1M969.5 620V649M968 633.5h1M970 640.5h1M972.5 608V643M971 640.5h1M973 628.5h1M975.5 653V678M974 653.5h1M976 668.5h1M977.5 666V684M976 668.5h1M978 676.5h1M980.5 661V683M979 676.5h1M981 676.5h1M983.5 638V664M982 663.5h1M984 647.5h1M986.5 634V654M985 647.5h1M987 645.5h1M988.5 613V653M987 645.5h1M989 648.5h1M991.5 625V650M990 648.5h1M992 628.5h1M994.5 621V636M993 628.5h1M995 626.5h1M996.5 638V669M995 638.5h1M997 653.5h1M999.5 646V668M998 653.5h1M1000 653.5h1M1002.5 633V662M1001 653.5h1M1003 644.5h1M1005.5 628V657M1004 644.5h1M1006 647.5h1M1007.5 634V654M1006 647.5h1M1008 645.5h1M1010.5 634V656M1009 645.5h1M1011 644.5h1M1013.5 637V650M1012 644.5h1M1014 641.5h1M1016.5 632V642M1015 641.5h1M1017 638.5h1M1018.5 606V630M1017 629.5h1M1019 627.5h1M1021.5 603V632M1020 627.5h1M1022 607.5h1M1024.5 590V608M1023 607.5h1M1025 596.5h1M1027.5 594V602M1026 596.5h1M1028 598.5h1M1029.5 586V601M1028 598.5h1M1030 592.5h1M1032.5 562V596M1031 592.5h1M1033 585.5h1M1035.5 567V590M1034 585.5h1M1036 569.5h1M1038.5 547V576M1037 569.5h1M1039 564.5h1M1040.5 554V569M1039 564.5h1M1041 560.5h1M1043.5 555V572M1042 560.5h1M1044 563.5h1M1046.5 562V585M1045 563.5h1M1047 572.5h1M1049.5 570V612M1048 572.5h1M1050 587.5h1M1051.5 589V620M1050 589.5h1M1052 599.5h1M1054.5 620V638M1053 620.5h1M1055 630.5h1M1057.5 601V623M1056 622.5h1M1058 610.5h1M1060.5 596V612M1059 610.5h1M1061 606.5h1M1062.5 597V611M1061 606.5h1M1063 604.5h1M1065.5 598V606M1064 604.5h1M1066 601.5h1M1068.5 595V606M1067 601.5h1M1069 598.5h1M1071.5 602V616M1070 602.5h1M1072 610.5h1M1073.5 613V628M1072 613.5h1M1074 620.5h1M1076.5 622V644M1075 622.5h1M1077 633.5h1M1079.5 627V639M1078 633.5h1M1080 629.5h1M1081.5 618V634M1080 629.5h1M1082 629.5h1M1084.5 624V635M1083 629.5h1M1085 628.5h1M1087.5 628V645M1086 628.5h1M1088 639.5h1M1090.5 628V645M1089 639.5h1M1091 636.5h1M1092.5 610V636M1091 635.5h1M1093 620.5h1M1095.5 612V623M1094 620.5h1M1096 619.5h1M1098.5 605V617M1097 616.5h1M1099 610.5h1M1101.5 618V644M1100 618.5h1M1102 623.5h1M1103.5 631V647M1102 631.5h1M1104 641.5h1M1106.5 638V649M1105 641.5h1M1107 644.5h1M1109.5 638V652M1108 644.5h1M1110 649.5h1M1112.5 645V663M1111 649.5h1M1113 653.5h1M1114.5 642V656M1113 653.5h1M1115 647.5h1M1117.5 638V654M1116 647.5h1M1118 643.5h1M1120.5 641V651M1119 643.5h1M1121 643.5h1M1123.5 644V656M1122 644.5h1M1124 649.5h1M1125.5 631V642M1124 641.5h1M1126 634.5h1M1128.5 635V652M1127 635.5h1M1129 640.5h1M1131.5 643V652M1130 643.5h1M1132 648.5h1M1134.5 651V664M1133 651.5h1M1135 656.5h1M1136.5 648V659M1135 656.5h1M1137 653.5h1M1139.5 645V655M1138 653.5h1M1140 651.5h1M1142.5 636V645M1141 644.5h1M1143 640.5h1M1145.5 634V641M1144 640.5h1M1146 638.5h1M1147.5 636V661M1146 638.5h1M1148 652.5h1M1150.5 654V663M1149 654.5h1M1151 659.5h1M1153.5 659V672M1152 659.5h1M1154 663.5h1M1156.5 652V662M1155 661.5h1M1157 655.5h1M1158.5 650V665M1157 655.5h1M1159 661.5h1M1161.5 657V669M1160 661.5h1M1162 662.5h1M1164.5 653V665M1163 662.5h1M1165 660.5h1M1166.5 628V652M1165 651.5h1M1167 642.5h1M1169.5 629V647M1168 642.5h1M1170 633.5h1M1172.5 622V633M1171 632.5h1M1173 628.5h1M1175.5 622V629M1174 628.5h1M1176 624.5h1M1177.5 628V638M1176 628.5h1M1178 631.5h1M1180.5 629V638M1179 631.5h1M1181 636.5h1M1183.5 635V648M1182 636.5h1M1184 645.5h1M1186.5 643V653M1185 645.5h1M1187 649.5h1M1188.5 644V656M1187 649.5h1M1189 647.5h1M1191.5 631V642M1190 641.5h1M1192 634.5h1M1194.5 624V634M1193 633.5h1M1195 629.5h1M1197.5 624V631M1196 629.5h1M1198 629.5h1M1199.5 624V634M1198 629.5h1M1200 629.5h1M1202.5 621V629M1201 628.5h1M1203 623.5h1M1205.5 618V632M1204 623.5h1M1206 622.5h1M1208.5 628V640M1207 628.5h1M1209 635.5h1M1210.5 636V652M1209 636.5h1M1211 641.5h1M1213.5 632V642M1212 641.5h1M1214 637.5h1M1216.5 623V653M1215 637.5h1M1217 628.5h1M1219.5 625V648M1218 628.5h1M1220 645.5h1M1221.5 644V654M1220 645.5h1M1222 651.5h1M1224.5 644V662M1223 651.5h1M1225 654.5h1M1227.5 643V653M1226 652.5h1M1228 646.5h1M1230.5 641V654M1229 646.5h1M1231 643.5h1M1232.5 641V650M1231 643.5h1M1233 645.5h1M1235.5 622V657M1234 645.5h1M1236 649.5h1M1238.5 576V609M1237 587.5h1M1239 595.5h1M1241.5 580V597M1240 595.5h1M1242 590.5h1M1243.5 589V607M1242 590.5h1M1244 596.5h1M1246.5 608V624M1245 608.5h1M1247 618.5h1M1249.5 613V627M1248 618.5h1M1250 619.5h1M1252.5 608V625M1251 619.5h1M1253 619.5h1M1254.5 622V642M1253 622.5h1M1255 633.5h1M1257.5 636V651M1256 636.5h1M1258 640.5h1M1260.5 622V638M1259 637.5h1M1261 628.5h1M1262.5 622V631M1261 628.5h1M1263 627.5h1M1265.5 624V640M1264 627.5h1M1266 632.5h1M1268.5 614V629M1267 628.5h1M1269 622.5h1M1271.5 618V627M1270 622.5h1M1272 622.5h1M1273.5 615V623M1272 622.5h1M1274 617.5h1M1276.5 609V623M1275 617.5h1M1277 619.5h1M1279.5 615V623M1278 619.5h1M1280 617.5h1M1282.5 613V621M1281 617.5h1M1283 617.5h1M1284.5 616V624M1283 617.5h1M1285 620.5h1M1287.5 617V624M1286 620.5h1M1288 620.5h1M1290.5 621V627M1289 621.5h1M1291 625.5h1M1293.5 619V626M1292 625.5h1M1294 622.5h1M1295.5 617V630M1294 622.5h1M1296 627.5h1M1298.5 628V643M1297 628.5h1M1299 633.5h1M1301.5 623V631M1300 630.5h1M1302 627.5h1M1304.5 619V634M1303 627.5h1M1305 627.5h1M1306.5 618V628M1305 627.5h1M1307 623.5h1M1309.5 615V628M1308 623.5h1M1310 620.5h1M1312.5 616V633M1311 620.5h1M1313 624.5h1M1315.5 623V636M1314 624.5h1M1316 631.5h1M1317.5 635V660M1316 635.5h1M1318 646.5h1M1320.5 667V684M1319 678.5h1M1321 672.5h1M1323.5 674V688M1322 674.5h1M1324 681.5h1M1326.5 675V688M1325 681.5h1M1327 685.5h1M1328.5 674V685M1327 684.5h1M1329 683.5h1M1331.5 657V683M1330 682.5h1M1332 678.5h1M1334.5 648V676M1333 675.5h1M1335 662.5h1M1337.5 633V650M1336 649.5h1M1338 643.5h1M1339.5 632V645M1338 643.5h1M1340 635.5h1M1342.5 536V628M1341 627.5h1M1343 536.5h1M1345.5 531V550M1344 536.5h1M1346 539.5h1M1347.5 525V547M1346 539.5h1M1348 539.5h1M1350.5 547V559M1349 547.5h1M1351 556.5h1M1353.5 548V560M1352 556.5h1M1354 552.5h1M1356.5 521V547M1355 546.5h1M1357 532.5h1M1358.5 529V542M1357 532.5h1M1359 535.5h1M1361.5 532V542M1360 535.5h1M1362 536.5h1M1364.5 538V548M1363 538.5h1M1365 542.5h1M1367.5 537V545M1366 542.5h1M1368 540.5h1M1369.5 522V539M1368 538.5h1M1370 532.5h1M1372.5 517V533M1371 532.5h1M1373 525.5h1M1375.5 512V521M1374 520.5h1M1376 517.5h1M1378.5 512V520M1377 517.5h1M1379 516.5h1M1380.5 513V525M1379 516.5h1M1381 520.5h1M1383.5 515V523M1382 520.5h1M1384 519.5h1M1386.5 517V523M1385 519.5h1M1387 519.5h1M1389.5 517V525M1388 519.5h1M1390 522.5h1M1391.5 519V528M1390 522.5h1M1392 524.5h1M1394.5 521V532M1393 524.5h1M1395 525.5h1M1397.5 527V539M1396 527.5h1M1398 530.5h1M1400.5 528V547M1399 530.5h1M1401 538.5h1M1402.5 534V547M1401 538.5h1M1403 540.5h1M1405.5 538V554M1404 540.5h1M1406 546.5h1M1408.5 550V565M1407 550.5h1M1409 560.5h1M1411.5 530V547M1410 546.5h1M1412 539.5h1M1413.5 529V556M1412 539.5h1M1414 545.5h1M1416.5 543V555M1415 545.5h1M1417 546.5h1M1419.5 545V556M1418 546.5h1M1420 550.5h1M1422.5 549V563M1421 550.5h1M1423 557.5h1M1424.5 572V590M1423 577.5h1M1425 578.5h1M1427.5 571V582M1426 578.5h1M1428 578.5h1M1430.5 568V576M1429 575.5h1M1431 574.5h1M1432.5 566V573M1431 572.5h1M1433 568.5h1M1435.5 553V569M1434 568.5h1M1436 562.5h1M1438.5 548V559M1437 558.5h1M1439 552.5h1M1441.5 555V561M1440 555.5h1M1442 558.5h1M1443.5 559V565M1442 559.5h1M1444 563.5h1M1446.5 564V573M1445 564.5h1M1447 568.5h1M1449.5 568V578M1448 568.5h1M1450 572.5h1M1452.5 556V578M1451 572.5h1M1453 570.5h1M1454.5 553V568M1453 567.5h1M1455 561.5h1M1457.5 551V559M1456 558.5h1M1458 555.5h1M1460.5 549V559M1459 555.5h1M1461 553.5h1M1463.5 553V564M1462 553.5h1M1464 558.5h1M1465.5 560V581M1464 560.5h1M1466 574.5h1M1468.5 555V573M1467 572.5h1M1469 565.5h1M1471.5 559V571M1470 565.5h1M1472 565.5h1M1474.5 560V569M1473 565.5h1M1475 565.5h1M1476.5 558V571M1475 565.5h1M1477 567.5h1M1479.5 561V572M1478 567.5h1M1480 567.5h1M1482.5 559V567M1481 566.5h1M1483 565.5h1M1485.5 563V581M1484 565.5h1M1486 572.5h1M1487.5 575V595M1486 575.5h1M1488 588.5h1M1490.5 589V597M1489 589.5h1M1491 594.5h1M1493.5 589V598M1492 594.5h1M1494 596.5h1M1496.5 590V604M1495 596.5h1M1497 599.5h1M1498.5 593V602M1497 599.5h1M1499 598.5h1M1501.5 594V601M1500 598.5h1M1502 598.5h1M1504.5 589V599M1503 598.5h1M1505 596.5h1M1507.5 583V588M1506 587.5h1M1508 586.5h1M1509.5 573V585M1508 584.5h1M1510 579.5h1M1512.5 559V575M1511 574.5h1M1513 569.5h1M1515.5 559V568M1514 567.5h1M1516 565.5h1M1517.5 565V571M1516 565.5h1M1518 568.5h1M1520.5 565V575M1519 568.5h1M1521 570.5h1M1523.5 572V580M1522 572.5h1M1524 575.5h1M1526.5 572V585M1525 575.5h1M1527 580.5h1" stroke="#000" stroke-width="1" fill="none" shape-rendering="crispEdges"/>
<polyline points="10.2,375.0 15.2,374.4 20.2,373.9 25.2,373.3 30.2,372.7 35.2,372.1 40.2,371.6 45.2,371.0 50.2,370.4 55.2,369.9 60.2,369.3 65.2,368.7 70.2,368.1 75.2,367.6 80.2,367.0 85.2,366.4 90.2,365.7 95.2,365.0 100.2,364.4 105.2,363.7 110.2,363.0 115.2,362.4 120.2,361.7 125.2,361.0 130.2,360.4 135.2,359.7 140.2,359.0 145.2,358.3 150.2,357.6 155.2,356.9 160.2,356.1 165.2,355.4 170.2,354.7 175.2,354.0 180.2,353.3 185.2,352.6 190.2,351.9 195.2,351.2 200.2,350.5 205.2,349.8 210.2,349.1 215.2,348.4 220.2,347.7 225.2,347.0 230.2,346.3 235.2,345.7 240.2,344.9 245.2,344.0 250.2,343.0 255.2,342.0 260.2,341.0 265.2,340.0 270.2,339.0 275.2,338.0 280.2,337.0 285.2,336.0 290.2,335.0 295.2,334.0 300.2,332.9 305.2,331.8 310.2,330.7 315.2,329.6 320.2,328.5 325.2,327.4 330.2,326.2 335.2,325.1 340.2,324.0 345.2,322.9 350.2,321.7 355.2,320.6 360.2,319.6 365.2,318.5 370.2,317.4 375.2,316.4 380.2,315.3 385.2,314.3 390.2,313.2 395.2,312.2 400.2,311.2 405.2,310.1 410.2,309.1 415.2,308.0 420.2,306.9 425.2,305.9 430.2,304.8 435.2,303.7 440.2,302.6 445.2,301.5 450.2,300.5 455.2,299.4 460.2,298.3 465.2,297.2 470.2,296.1 475.2,295.0 480.2,293.9 485.2,292.8 490.2,291.7 495.2,290.6 500.2,289.5 505.2,288.4 510.2,287.2 515.2,286.1 520.2,285.0 525.2,283.9 530.2,282.7 535.2,281.5 540.2,280.2 545.2,279.0 550.2,277.8 555.2,276.5 560.2,275.2 565.2,274.1 570.2,273.0 575.2,272.1 580.2,271.3 585.2,270.5 590.2,269.7 595.2,268.9 600.2,268.0 605.2,267.2 610.2,266.4 615.2,265.7 620.2,265.0 625.2,264.5 630.2,264.0 635.2,263.6 640.2,263.1 645.2,262.6 650.2,262.1 655.2,261.6 660.2,261.2 665.2,260.7 670.2,260.4 675.2,260.1 680.2,259.8 685.2,259.5 690.2,259.2 695.2,258.9 700.2,258.5 705.2,258.2 710.2,257.9 715.2,257.5 720.2,257.1 725.2,256.6 730.2,256.2 735.2,255.7 740.2,255.2 745.2,254.8 750.2,254.3 755.2,253.8 760.2,253.3 765.2,252.5 770.2,251.6 775.2,250.7 780.2,249.7 785.2,248.7 790.2,247.7 795.2,246.5 800.2,245.2 805.2,244.0 810.2,242.8 815.2,241.4 820.2,239.8 825.2,238.1 830.2,236.3 835.2,234.6 840.2,232.8 845.2,231.0 850.2,229.1 855.2,227.3 860.2,225.4 865.2,223.8 870.2,222.7 875.2,222.2 880.2,222.1 885.2,222.3 890.2,222.4 895.2,222.6 900.2,222.7 905.2,222.9 910.2,223.0 915.2,223.2 920.2,223.4 925.2,223.6 930.2,223.8 935.2,224.0 940.2,224.2 945.2,224.3 950.2,224.5 955.2,224.6 960.2,224.8 965.2,224.9 970.2,225.1 975.2,225.2 980.2,225.3 985.2,225.5 990.2,225.6 995.2,225.6 1000.2,225.6 1005.2,225.4 1010.2,225.3 1015.2,225.2 1020.2,225.1 1025.2,225.0 1030.2,224.6 1035.2,223.8 1040.2,222.8 1045.2,221.7 1050.2,220.7 1055.2,219.6 1060.2,218.5 1065.2,217.5 1070.2,216.4 1075.2,215.4 1080.2,214.3 1085.2,213.3 1090.2,212.2 1095.2,211.2 1100.2,210.2 1105.2,209.1 1110.2,207.8 1115.2,206.4 1120.2,204.8 1125.2,203.2 1130.2,201.7 1135.2,200.1 1140.2,198.5 1145.2,196.9 1150.2,195.4 1155.2,193.9 1160.2,192.5 1165.2,191.2 1170.2,189.8 1175.2,188.5 1180.2,187.2 1185.2,185.9 1190.2,184.8 1195.2,183.8 1200.2,182.9 1205.2,181.9 1210.2,181.0 1215.2,180.0 1220.2,179.2 1225.2,178.4 1230.2,177.8 1235.2,177.2 1240.2,176.5 1245.2,175.9 1250.2,175.3 1255.2,174.7 1260.2,174.0 1265.2,173.3 1270.2,172.5 1275.2,171.7 1280.2,170.8 1285.2,169.9 1290.2,169.0 1295.2,168.1 1300.2,167.3 1305.2,166.6 1310.2,165.9 1315.2,165.3 1320.2,164.5 1325.2,163.7 1330.2,162.7 1335.2,161.8 1340.2,160.8 1345.2,159.8 1350.2,158.9 1355.2,157.9 1360.2,157.0 1365.2,156.0 1370.2,155.0 1375.2,154.0 1380.2,153.0 1385.2,152.0 1390.2,151.0 1395.2,150.0 1400.2,149.1 1405.2,148.2 1410.2,147.4 1415.2,146.6 1420.2,145.8 1425.2,145.0 1430.2,144.2 1435.2,143.4 1440.2,142.3 1445.2,141.0 1450.2,139.6 1455.2,138.2 1460.2,136.8 1465.2,135.4 1470.2,134.1 1475.2,132.9 1480.2,131.8 1485.2,130.7 1490.2,129.6 1495.2,128.5 1500.2,127.6 1505.2,126.9 1510.2,126.3 1515.2,125.9 1520.2,125.7 1524.7,125.5" stroke="#ff0000" stroke-width="4.2" fill="none" stroke-linejoin="round" shape-rendering="crispEdges"/>
<polyline points="10.0,579.7 15.0,580.6 20.0,581.6 25.0,582.8 30.0,584.1 35.0,585.8 40.0,587.5 45.0,589.1 50.0,590.6 55.0,591.9 60.0,593.1 65.0,594.2 70.0,595.4 75.0,596.5 80.0,597.5 85.0,598.4 90.0,599.2 95.0,599.9 100.0,600.6 105.0,601.3 110.0,602.0 115.0,602.5 120.0,602.9 125.0,603.2 130.0,603.5 135.0,603.5 140.0,603.5 145.0,603.4 150.0,603.3 155.0,603.2 160.0,603.1 165.0,602.9 170.0,602.6 175.0,602.3 180.0,602.1 185.0,601.8 190.0,601.6 195.0,601.4 200.0,601.2 205.0,601.1 210.0,600.9 215.0,600.7 220.0,600.5 225.0,600.2 230.0,599.8 235.0,599.5 240.0,599.2 245.0,598.8 250.0,598.4 255.0,597.9 260.0,597.4 265.0,596.9 270.0,596.6 275.0,596.5 280.0,596.6 285.0,596.6 290.0,596.7 295.0,596.8 300.0,596.9 305.0,596.9 310.0,597.1 315.0,597.3 320.0,597.6 325.0,597.9 330.0,598.2 335.0,598.5 340.0,598.7 345.0,598.8 350.0,598.8 355.0,598.8 360.0,598.8 365.0,598.8 370.0,598.8 375.0,598.8 380.0,598.8 385.0,598.8 390.0,598.5 395.0,597.9 400.0,597.2 405.0,596.5 410.0,595.7 415.0,595.0 420.0,594.3 425.0,593.6 430.0,592.9 435.0,592.3 440.0,591.6 445.0,591.0 450.0,590.5 455.0,590.1 460.0,589.8 465.0,589.6 470.0,589.3 475.0,589.1 480.0,588.8 485.0,588.5 490.0,588.1 495.0,587.4 500.0,586.7 505.0,585.9 510.0,585.2 515.0,584.4 520.0,583.5 525.0,582.6 530.0,581.9 535.0,581.5 540.0,581.1 545.0,580.8 550.0,580.4 555.0,579.8 560.0,579.1 565.0,578.4 570.0,577.7 575.0,577.0 580.0,576.3 585.0,575.6 590.0,574.8 595.0,574.0 600.0,573.2 605.0,572.4 610.0,571.6 615.0,570.8 620.0,570.0 625.0,569.2 630.0,568.4 635.0,567.7 640.0,567.1 645.0,566.5 650.0,565.9 655.0,565.3 660.0,564.8 665.0,564.2 670.0,563.6 675.0,563.1 680.0,562.5 685.0,561.9 690.0,561.2 695.0,560.6 700.0,559.9 705.0,558.9 710.0,557.7 715.0,556.1 720.0,554.5 725.0,552.9 730.0,551.1 735.0,549.1 740.0,547.0 745.0,544.9 750.0,542.9 755.0,540.9 760.0,539.1 765.0,537.3 770.0,535.5 775.0,533.8 780.0,532.4 785.0,531.1 790.0,529.8 795.0,528.6 800.0,527.3 805.0,526.0 810.0,524.6 815.0,523.3 820.0,521.9 825.0,520.3 830.0,518.6 835.0,516.9 840.0,515.7 845.0,515.0 850.0,514.7 855.0,514.7 860.0,514.9 865.0,515.3 870.0,516.4 875.0,518.1 880.0,520.6 885.0,523.4 890.0,526.7 895.0,529.6 900.0,532.2 905.0,534.4 910.0,536.6 915.0,538.6 920.0,540.5 925.0,542.4 930.0,544.0 935.0,545.2 940.0,546.0 945.0,546.6 950.0,547.6 955.0,549.0 960.0,550.9 965.0,552.6 970.0,554.4 975.0,556.2 980.0,557.9 985.0,559.6 990.0,561.1 995.0,562.7 1000.0,564.1 1005.0,565.4 1010.0,566.6 1015.0,567.6 1020.0,568.4 1025.0,569.0 1030.0,569.3 1035.0,569.6 1040.0,570.0 1045.0,570.4 1050.0,570.8 1055.0,571.4 1060.0,572.0 1065.0,572.8 1070.0,573.6 1075.0,574.5 1080.0,575.5 1085.0,576.5 1090.0,577.5 1095.0,578.5 1100.0,579.5 1105.0,580.5 1110.0,581.6 1115.0,582.6 1120.0,583.7 1125.0,584.8 1130.0,585.9 1135.0,587.1 1140.0,588.2 1145.0,589.3 1150.0,590.5 1155.0,591.6 1160.0,592.6 1165.0,593.4 1170.0,594.2 1175.0,594.9 1180.0,595.7 1185.0,596.4 1190.0,597.2 1195.0,597.9 1200.0,598.7 1205.0,599.4 1210.0,600.1 1215.0,600.7 1220.0,601.4 1225.0,602.0 1230.0,602.7 1235.0,603.3 1240.0,603.8 1245.0,604.1 1250.0,604.4 1255.0,604.6 1260.0,604.9 1265.0,605.2 1270.0,605.4 1275.0,605.7 1280.0,605.9 1285.0,606.2 1290.0,606.4 1295.0,606.6 1300.0,606.9 1305.0,607.3 1310.0,608.0 1315.0,608.8 1320.0,609.7 1325.0,610.5 1330.0,611.5 1335.0,612.2 1340.0,612.4 1345.0,611.9 1350.0,610.9 1355.0,609.5 1360.0,608.1 1365.0,606.6 1370.0,605.1 1375.0,603.6 1380.0,602.1 1385.0,600.6 1390.0,599.1 1395.0,597.6 1400.0,596.4 1405.0,595.4 1410.0,594.7 1415.0,593.9 1420.0,593.3 1425.0,592.7 1430.0,592.1 1435.0,591.5 1440.0,590.9 1445.0,590.4 1450.0,589.9 1455.0,589.4 1460.0,589.0 1465.0,588.5 1470.0,588.1 1475.0,587.7 1480.0,587.5 1485.0,587.4 1490.0,587.5 1495.0,587.6 1500.0,587.6 1505.0,587.6 1510.0,587.5 1515.0,587.5 1520.0,587.4 1525.0,587.3 1525.7,587.3" stroke="#ff0000" stroke-width="4.2" fill="none" stroke-linejoin="round" shape-rendering="crispEdges"/>
<text x="844" y="420" font-size="11" fill="#000" textLength="27" lengthAdjust="spacingAndGlyphs">31.84</text>
<text x="844" y="547.5" font-size="11" fill="#000" textLength="27" lengthAdjust="spacingAndGlyphs">26.66</text>
<text x="844" y="586" font-size="11" fill="#000" textLength="27" lengthAdjust="spacingAndGlyphs">25.06</text>
<text x="844" y="625" font-size="11" fill="#000" textLength="27" lengthAdjust="spacingAndGlyphs">23.47</text>
<text x="844" y="752" font-size="11" fill="#000" textLength="27" lengthAdjust="spacingAndGlyphs">18.29</text>
<line x1="858" y1="295.5" x2="1580" y2="92" stroke="#00ff00" stroke-width="5" shape-rendering="crispEdges"/>
<line x1="815" y1="108.3" x2="1565.5" y2="104.8" stroke="#0000f5" stroke-width="4.6" shape-rendering="crispEdges"/>
<line x1="1443.5" y1="24.5" x2="1451" y2="31" stroke="#2a7de1" stroke-width="1"/>
<line x1="1441" y1="23.5" x2="1547" y2="118.5" stroke="#ff00ff" stroke-width="4.6" shape-rendering="crispEdges"/>
<line x1="1580" y1="92" x2="1584" y2="91" stroke="#2a7de1" stroke-width="1"/>
<rect x="1535" y="127" width="229" height="20" fill="#fff"/>
<text x="1537" y="141.2" font-size="15.5" font-weight="bold" fill="#000" textLength="225" lengthAdjust="spacingAndGlyphs">debe soportarse en esta zona</text>
<ellipse cx="1518.5" cy="101" rx="35.3" ry="32.7" stroke="#000" stroke-width="2.7" fill="none"/>
<polygon points="1547.2,70.9 1538.3,80.1 1535.0,76.8 1530.0,95.0 1548.0,89.5 1544.7,86.2 1553.6,77.1" fill="#000" shape-rendering="crispEdges"/>
<polygon points="1471.2,102.5 1477.6,109.3 1474.2,112.5 1491.7,118.0 1487.3,100.2 1484.0,103.3 1477.6,96.5" fill="#000" shape-rendering="crispEdges"/>
<polygon points="1605.9,99.0 1592.9,100.5 1592.3,95.8 1577.0,107.0 1594.4,114.5 1593.9,109.8 1606.9,108.4" fill="#000" shape-rendering="crispEdges"/>
<polygon points="1522.3,158.5 1521.2,144.1 1525.8,143.8 1515.2,128.5 1506.9,145.1 1511.5,144.8 1512.5,159.3" fill="#000" shape-rendering="crispEdges"/>
<line x1="1315" y1="697" x2="1330" y2="690" stroke="#2a7de1" stroke-width="1"/>
<line x1="884" y1="753.4" x2="1738" y2="629.5" stroke="#00ff00" stroke-width="5.2" shape-rendering="crispEdges"/>
<line x1="1323" y1="694.5" x2="1645" y2="530" stroke="#00ff00" stroke-width="5.4" shape-rendering="crispEdges"/>
<line x1="922.5" y1="557.2" x2="1629.5" y2="557.2" stroke="#0000f5" stroke-width="4.6" shape-rendering="crispEdges"/>
<line x1="1353" y1="497.3" x2="1552.5" y2="594.2" stroke="#2a7de1" stroke-width="1"/>
<line x1="1355" y1="498.3" x2="1538.5" y2="583.3" stroke="#ff00ff" stroke-width="4.8" shape-rendering="crispEdges"/>
<line x1="1522" y1="592.83" x2="1556" y2="575.46" stroke="#00ff00" stroke-width="5.4" shape-rendering="crispEdges"/>
<rect x="284" y="702" width="282" height="26" fill="#fff"/>
<text x="286.4" y="720.7" font-size="16" fill="#000" stroke="#000" stroke-width="0.35" textLength="276" lengthAdjust="spacingAndGlyphs">WWW.INVERTIRYESPECULAR.COM</text>
<rect x="13" y="352" width="66" height="17" fill="#3f8fe6"/>
<text x="16.4" y="364.6" font-size="11" fill="#000" textLength="59.5" lengthAdjust="spacingAndGlyphs">Sin órdenes</text>
<rect x="13" y="742" width="66" height="17" fill="#3f8fe6"/>
<text x="16.4" y="754.6" font-size="11" fill="#000" textLength="59.5" lengthAdjust="spacingAndGlyphs">Sin órdenes</text>
<rect x="0" y="0" width="1893" height="1" fill="#a2a2a2"/>
<rect x="0" y="1" width="1893" height="1" fill="#686868"/>
<rect x="0" y="0" width="1" height="805" fill="#a0a09c"/>
<rect x="1" y="0" width="1" height="805" fill="#c49a72"/>
<rect x="2" y="0" width="1" height="805" fill="#a0a2a2"/>
<rect x="3" y="1" width="1" height="805" fill="#6a6a6a"/>
<rect x="4" y="391" width="1893" height="1" fill="#000"/>
<rect x="4" y="392" width="1893" height="14" fill="#d8d8d8"/>
<rect x="1876" y="393" width="17" height="12" fill="#fff"/>
<path d="M1878 402.5h8M1890.5 396v7h3M1890 396.5h3" stroke="#333" stroke-width="1" fill="none" shape-rendering="crispEdges"/>
<rect x="1890" y="396" width="3" height="2" fill="#333"/>
<path d="M1878 13.5h8M1890.5 7v7h3M1890 7.5h3" stroke="#333" stroke-width="1" fill="none" shape-rendering="crispEdges"/>
<rect x="1890" y="7" width="3" height="2" fill="#333"/>
<rect x="1827" y="17" width="66" height="374" fill="#f1f2f4"/>
<rect x="1827" y="406" width="66" height="375" fill="#f1f2f4"/>
<rect x="1828" y="390" width="66" height="1" fill="#fff"/>
<rect x="1828" y="407" width="66" height="1" fill="#fff"/>
<rect x="1828" y="18" width="66" height="1" fill="#fbfbfb"/>
<path d="M1827.5 17V391M1827 17.5H1893M1827.5 406V781M1827 406.5H1893M1828 25.5h3M1828 35.5h3M1828 46.5h3M1828 56.5h6M1828 66.5h3M1828 77.5h3M1828 87.5h3M1828 97.5h3M1828 107.5h6M1828 118.5h3M1828 128.5h3M1828 138.5h3M1828 148.5h3M1828 159.5h6M1828 169.5h3M1828 179.5h3M1828 189.5h3M1828 200.5h3M1828 210.5h6M1828 220.5h3M1828 230.5h3M1828 241.5h3M1828 251.5h3M1828 261.5h6M1828 271.5h3M1828 282.5h3M1828 292.5h3M1828 302.5h3M1828 313.5h6M1828 323.5h3M1828 333.5h3M1828 343.5h3M1828 354.5h3M1828 364.5h6M1828 374.5h3M1828 384.5h3M1828 419.5h6M1828 432.5h3M1828 444.5h3M1828 456.5h3M1828 468.5h6M1828 481.5h3M1828 493.5h3M1828 505.5h3M1828 517.5h6M1828 530.5h3M1828 542.5h3M1828 554.5h3M1828 566.5h6M1828 579.5h3M1828 591.5h3M1828 603.5h3M1828 615.5h6M1828 628.5h3M1828 640.5h3M1828 652.5h3M1828 664.5h6M1828 677.5h3M1828 689.5h3M1828 701.5h3M1828 713.5h6M1828 726.5h3M1828 738.5h3M1828 750.5h3M1828 762.5h6M1828 775.5h3" stroke="#303030" stroke-width="1" fill="none" shape-rendering="crispEdges"/>
<text x="1839" y="369.4" font-size="15.5" fill="#262626" textLength="7.6" lengthAdjust="spacingAndGlyphs">6</text>
<text x="1839" y="318.1" font-size="15.5" fill="#262626" textLength="7.6" lengthAdjust="spacingAndGlyphs">7</text>
<text x="1839" y="266.8" font-size="15.5" fill="#262626" textLength="7.6" lengthAdjust="spacingAndGlyphs">8</text>
<text x="1839" y="215.5" font-size="15.5" fill="#262626" textLength="7.6" lengthAdjust="spacingAndGlyphs">9</text>
<text x="1839" y="164.2" font-size="15.5" fill="#262626" textLength="15.2" lengthAdjust="spacingAndGlyphs">10</text>
<text x="1839" y="112.9" font-size="15.5" fill="#262626" textLength="15.2" lengthAdjust="spacingAndGlyphs">11</text>
<text x="1839" y="61.6" font-size="15.5" fill="#262626" textLength="15.2" lengthAdjust="spacingAndGlyphs">12</text>
<text x="1839" y="767.9" font-size="15.5" fill="#262626" textLength="15.2" lengthAdjust="spacingAndGlyphs">18</text>
<text x="1839" y="718.9" font-size="15.5" fill="#262626" textLength="15.2" lengthAdjust="spacingAndGlyphs">20</text>
<text x="1839" y="669.9" font-size="15.5" fill="#262626" textLength="15.2" lengthAdjust="spacingAndGlyphs">22</text>
<text x="1839" y="620.9" font-size="15.5" fill="#262626" textLength="15.2" lengthAdjust="spacingAndGlyphs">24</text>
<text x="1839" y="571.9" font-size="15.5" fill="#262626" textLength="15.2" lengthAdjust="spacingAndGlyphs">26</text>
<text x="1839" y="522.9" font-size="15.5" fill="#262626" textLength="15.2" lengthAdjust="spacingAndGlyphs">28</text>
<text x="1839" y="473.9" font-size="15.5" fill="#262626" textLength="15.2" lengthAdjust="spacingAndGlyphs">30</text>
<text x="1839" y="424.9" font-size="15.5" fill="#262626" textLength="15.2" lengthAdjust="spacingAndGlyphs">32</text>
<rect x="1837" y="130" width="49" height="9" fill="#ff0000"/><svg x="1837" y="130" width="49" height="9" viewBox="0 0 49 9"><text x="3" y="4.3" font-size="15.5" fill="#fff" textLength="41.3" lengthAdjust="spacingAndGlyphs">10,655</text></svg><rect x="1837" y="105" width="49" height="25" fill="#000"/><text x="1840" y="125.2" font-size="15.5" fill="#fff" textLength="41.3" lengthAdjust="spacingAndGlyphs">10,805</text>
<rect x="1837" y="586" width="41" height="13" fill="#ff0000"/><svg x="1837" y="586" width="41" height="13" viewBox="0 0 41 13"><text x="3" y="7.9" font-size="15.5" fill="#fff" textLength="32.6" lengthAdjust="spacingAndGlyphs">25,17</text></svg><rect x="1837" y="561" width="41" height="25" fill="#000"/><text x="1840" y="581.2" font-size="15.5" fill="#fff" textLength="32.6" lengthAdjust="spacingAndGlyphs">25,71</text>
<path d="M1829.5 117.5H1836M1832.5 114.5L1829.5 117.5L1832.5 120.5" stroke="#303030" stroke-width="1" fill="none"/>
<path d="M1829.5 126.5H1836M1832.5 123.5L1829.5 126.5L1832.5 129.5" stroke="#303030" stroke-width="1" fill="none"/>
<path d="M1829.5 573.5H1836M1832.5 570.5L1829.5 573.5L1832.5 576.5" stroke="#303030" stroke-width="1" fill="none"/>
<path d="M1829.5 586.5H1836M1832.5 583.5L1829.5 586.5L1832.5 589.5" stroke="#303030" stroke-width="1" fill="none"/>
<rect x="4" y="782" width="1893" height="19" fill="#ededed"/>
<rect x="4" y="801" width="1893" height="4" fill="#f7f7f7"/>
<rect x="1742" y="802" width="151" height="3" fill="#c6c6c6"/>
<rect x="4" y="781" width="1893" height="1" fill="#303030"/>
<path d="M45.5 766V791M218.5 782V791M388.5 782V791M568.5 782V791M742.5 766V791M918.5 782V791M1088.5 782V791M1268.5 782V791M1445.5 766V791M1618.5 782V791M1796.5 782V791" stroke="#303030" stroke-width="1" fill="none" shape-rendering="crispEdges"/>
<text x="47" y="797.6" font-size="12" fill="#222" textLength="53" lengthAdjust="spacingAndGlyphs">01-Ene-19</text>
<text x="220" y="797.6" font-size="12" fill="#222" textLength="53" lengthAdjust="spacingAndGlyphs">01-Abr-19</text>
<text x="390" y="797.6" font-size="12" fill="#222" textLength="48" lengthAdjust="spacingAndGlyphs">01-Jul-19</text>
<text x="570" y="797.6" font-size="12" fill="#222" textLength="53" lengthAdjust="spacingAndGlyphs">01-Oct-19</text>
<text x="744" y="797.6" font-size="12" fill="#222" textLength="53" lengthAdjust="spacingAndGlyphs">01-Ene-20</text>
<text x="920" y="797.6" font-size="12" fill="#222" textLength="53" lengthAdjust="spacingAndGlyphs">01-Abr-20</text>
<text x="1090" y="797.6" font-size="12" fill="#222" textLength="48" lengthAdjust="spacingAndGlyphs">01-Jul-20</text>
<text x="1270" y="797.6" font-size="12" fill="#222" textLength="53" lengthAdjust="spacingAndGlyphs">01-Oct-20</text>
<text x="1447" y="797.6" font-size="12" fill="#222" textLength="53" lengthAdjust="spacingAndGlyphs">01-Ene-21</text>
<text x="1620" y="797.6" font-size="12" fill="#222" textLength="53" lengthAdjust="spacingAndGlyphs">01-Abr-21</text>
<svg x="1797" y="784" width="26" height="17" viewBox="0 0 26 17"><text x="1" y="13.6" font-size="12" fill="#222" textLength="50" lengthAdjust="spacingAndGlyphs">01-Jul-21</text></svg>
<text x="47" y="776.8" font-size="11.5" fill="#222" textLength="24" lengthAdjust="spacingAndGlyphs">2019</text>
<text x="744" y="776.8" font-size="11.5" fill="#222" textLength="24" lengthAdjust="spacingAndGlyphs">2020</text>
<text x="1447" y="776.8" font-size="11.5" fill="#222" textLength="24" lengthAdjust="spacingAndGlyphs">2021</text>
<rect x="1836.5" y="783.5" width="17" height="16" fill="#fff" stroke="#9a9a9a"/>
<path d="M1840 789.5l3-3 4 4 3-3" stroke="#8a8a8a" stroke-width="1.2" fill="none"/>
<path d="M1840 793.5l3-3 4 4 3-3" stroke="#2e8bd8" stroke-width="1.6" fill="none"/>
<rect x="1858.5" y="783.5" width="40" height="16" fill="#fff" stroke="#9a9a9a"/>
<path d="M1863.5 786v10h11v-10zM1866 786v4h6v-4M1866 796v-3h6v3" stroke="#b8b8b8" stroke-width="1.4" fill="none"/>
<path d="M1882 791.5h4M1886.5 789v5h4v-5z" stroke="#9a9a9a" stroke-width="1" fill="none"/>
<text x="7.1" y="14" font-size="11" fill="#111" textLength="110.4" lengthAdjust="spacingAndGlyphs">IBE.MC - IBERDROLA -</text><text x="123.6" y="14" font-size="11" fill="#111" textLength="14.9" lengthAdjust="spacingAndGlyphs">1 d</text><text x="144.5" y="14" font-size="11" fill="#111" textLength="32.0" lengthAdjust="spacingAndGlyphs">Dif. %:</text><text x="180.4" y="14" font-size="11" fill="#3d8fe0" textLength="20.3" lengthAdjust="spacingAndGlyphs">0,28</text><text x="206.5" y="14" font-size="11" fill="#111" textLength="20.5" lengthAdjust="spacingAndGlyphs">Dif.:</text><text x="230.3" y="14" font-size="11" fill="#3d8fe0" textLength="26.4" lengthAdjust="spacingAndGlyphs">0,030</text><text x="262.8" y="14" font-size="11" fill="#111" textLength="11.7" lengthAdjust="spacingAndGlyphs">M:</text><text x="278.7" y="14" font-size="11" fill="#111" textLength="32.2" lengthAdjust="spacingAndGlyphs">10,860</text><text x="317" y="14" font-size="11" fill="#111" textLength="10.5" lengthAdjust="spacingAndGlyphs">m:</text><text x="331.5" y="14" font-size="11" fill="#111" textLength="32.5" lengthAdjust="spacingAndGlyphs">10,710</text><text x="369.3" y="14" font-size="11" fill="#111" textLength="8.2" lengthAdjust="spacingAndGlyphs">F:</text><text x="381.7" y="14" font-size="11" fill="#111" textLength="54.1" lengthAdjust="spacingAndGlyphs">12-02-2021</text><text x="442.4" y="14" font-size="11" fill="#ff0000" textLength="41.0" lengthAdjust="spacingAndGlyphs">P : 0,800</text>
<text x="7.1" y="402.5" font-size="11" fill="#111" textLength="91.9" lengthAdjust="spacingAndGlyphs">ITX.MC - INDITEX -</text><text x="105.7" y="402.5" font-size="11" fill="#111" textLength="14.5" lengthAdjust="spacingAndGlyphs">1 d</text><text x="126.8" y="402.5" font-size="11" fill="#111" textLength="31.7" lengthAdjust="spacingAndGlyphs">Dif. %:</text><text x="162.4" y="402.5" font-size="11" fill="#3d8fe0" textLength="19.9" lengthAdjust="spacingAndGlyphs">0,47</text><text x="188.3" y="402.5" font-size="11" fill="#111" textLength="20.4" lengthAdjust="spacingAndGlyphs">Dif.:</text><text x="212.6" y="402.5" font-size="11" fill="#3d8fe0" textLength="20.4" lengthAdjust="spacingAndGlyphs">0,12</text><text x="238.5" y="402.5" font-size="11" fill="#111" textLength="11.7" lengthAdjust="spacingAndGlyphs">M:</text><text x="254.4" y="402.5" font-size="11" fill="#111" textLength="26.4" lengthAdjust="spacingAndGlyphs">25,76</text><text x="287.1" y="402.5" font-size="11" fill="#111" textLength="10.4" lengthAdjust="spacingAndGlyphs">m:</text><text x="301.1" y="402.5" font-size="11" fill="#111" textLength="26.4" lengthAdjust="spacingAndGlyphs">25,24</text><text x="333.6" y="402.5" font-size="11" fill="#111" textLength="8.2" lengthAdjust="spacingAndGlyphs">F:</text><text x="345.5" y="402.5" font-size="11" fill="#111" textLength="54.7" lengthAdjust="spacingAndGlyphs">12-02-2021</text><text x="406" y="402.5" font-size="11" fill="#ff0000" textLength="41.7" lengthAdjust="spacingAndGlyphs">P : 23,19</text>
</svg>
</body></html>
